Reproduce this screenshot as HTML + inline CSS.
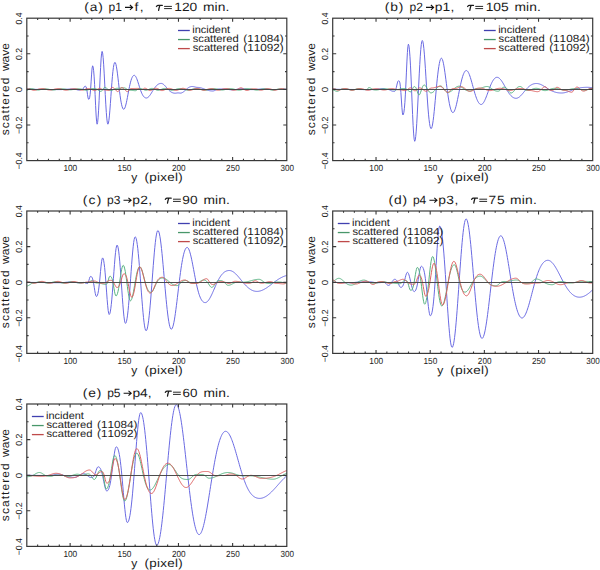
<!DOCTYPE html>
<html><head><meta charset="utf-8"><style>
html,body{margin:0;padding:0;background:#fff;}
svg{display:block;}
text{font-family:"Liberation Sans", sans-serif;fill:#1a1a1a;font-kerning:none;text-rendering:geometricPrecision;}
</style></head><body>
<svg width="600" height="570" viewBox="0 0 600 570">
<rect width="600" height="570" fill="#fff"/>
<clipPath id="clipa"><rect x="26.80" y="17.20" width="260.00" height="144.40"/></clipPath>
<g clip-path="url(#clipa)" fill="none" stroke-width="1" stroke-linejoin="round">
<path d="M26.80 89.30 L27.30 89.30 L27.81 89.30 L28.31 89.30 L28.81 89.30 L29.32 89.30 L29.82 89.31 L30.32 89.31 L30.82 89.31 L31.33 89.31 L31.83 89.32 L32.33 89.32 L32.84 89.32 L33.34 89.33 L33.84 89.33 L34.35 89.34 L34.85 89.34 L35.35 89.35 L35.85 89.35 L36.36 89.36 L36.86 89.36 L37.36 89.37 L37.87 89.37 L38.37 89.38 L38.87 89.39 L39.38 89.39 L39.88 89.40 L40.38 89.41 L40.88 89.41 L41.39 89.42 L41.89 89.43 L42.39 89.44 L42.90 89.44 L43.40 89.45 L43.90 89.46 L44.41 89.46 L44.91 89.47 L45.41 89.48 L45.92 89.49 L46.42 89.49 L46.92 89.50 L47.42 89.51 L47.93 89.51 L48.43 89.52 L48.93 89.52 L49.44 89.53 L49.94 89.54 L50.44 89.54 L50.95 89.55 L51.45 89.55 L51.95 89.56 L52.45 89.56 L52.96 89.57 L53.46 89.57 L53.96 89.58 L54.47 89.58 L54.97 89.58 L55.47 89.59 L55.98 89.59 L56.48 89.59 L56.98 89.59 L57.48 89.60 L57.99 89.60 L58.49 89.60 L58.99 89.60 L59.50 89.60 L60.00 89.60 L60.50 89.60 L61.00 89.59 L61.50 89.58 L62.00 89.56 L62.50 89.54 L63.00 89.51 L63.50 89.48 L64.00 89.45 L64.50 89.41 L65.00 89.38 L65.50 89.34 L66.00 89.30 L66.50 89.26 L67.00 89.22 L67.50 89.19 L68.00 89.15 L68.50 89.12 L69.00 89.09 L69.50 89.06 L70.00 89.04 L70.50 89.02 L71.00 89.01 L71.50 89.00 L72.00 89.00 L72.50 89.00 L73.00 89.01 L73.50 89.02 L74.00 89.05 L74.50 89.11 L75.00 89.19 L75.50 89.30 L76.00 89.43 L76.50 89.59 L77.00 89.74 L77.50 89.88 L78.00 90.00 L78.50 90.07 L79.00 90.10 L79.50 90.06 L80.00 89.95 L80.50 89.79 L81.00 89.61 L81.50 89.45 L82.00 89.34 L82.50 89.30 L83.10 88.86 L83.70 87.80 L84.30 86.74 L84.90 86.30 L85.43 86.28 L85.96 86.61 L86.49 88.03 L87.01 90.92 L87.54 94.71 L88.07 98.00 L88.60 99.30 L89.10 99.01 L89.60 97.77 L90.10 94.72 L90.60 89.30 L91.10 81.90 L91.60 74.08 L92.10 68.06 L92.60 65.80 L93.10 66.89 L93.60 70.28 L94.10 76.12 L94.60 84.40 L95.10 94.54 L95.60 105.32 L96.10 115.01 L96.60 121.77 L97.10 124.20 L97.60 122.56 L98.10 117.77 L98.60 110.18 L99.10 100.40 L99.60 89.30 L100.10 77.91 L100.60 67.39 L101.10 58.87 L101.60 53.32 L102.10 51.40 L102.63 52.99 L103.15 57.62 L103.68 64.82 L104.21 73.92 L104.74 84.09 L105.26 94.45 L105.79 104.16 L106.32 112.49 L106.85 118.86 L107.37 122.84 L107.90 124.20 L108.40 123.23 L108.90 120.39 L109.40 115.91 L109.90 110.13 L110.40 103.47 L110.90 96.38 L111.40 89.30 L111.90 82.61 L112.40 76.61 L112.90 71.54 L113.40 67.52 L113.90 64.62 L114.40 62.88 L114.90 62.30 L115.42 62.82 L115.94 64.34 L116.45 66.79 L116.97 70.02 L117.49 73.87 L118.01 78.13 L118.52 82.61 L119.04 87.10 L119.56 91.44 L120.08 95.47 L120.59 99.08 L121.11 102.19 L121.63 104.76 L122.15 106.75 L122.66 108.17 L123.18 109.02 L123.70 109.30 L124.23 109.02 L124.75 108.18 L125.28 106.83 L125.80 105.02 L126.33 102.82 L126.85 100.33 L127.38 97.64 L127.90 94.84 L128.42 92.03 L128.95 89.30 L129.47 86.71 L130.00 84.33 L130.53 82.20 L131.05 80.34 L131.57 78.78 L132.10 77.51 L132.62 76.53 L133.15 75.85 L133.67 75.44 L134.20 75.30 L134.70 75.44 L135.21 75.86 L135.71 76.55 L136.22 77.48 L136.72 78.63 L137.22 79.95 L137.73 81.41 L138.23 82.96 L138.74 84.57 L139.24 86.18 L139.75 87.77 L140.25 89.30 L140.75 90.74 L141.26 92.06 L141.76 93.26 L142.27 94.31 L142.77 95.23 L143.28 96.00 L143.78 96.64 L144.28 97.14 L144.79 97.52 L145.29 97.79 L145.80 97.95 L146.30 98.00 L146.81 97.94 L147.32 97.76 L147.83 97.48 L148.34 97.08 L148.85 96.58 L149.36 96.00 L149.87 95.34 L150.38 94.61 L150.89 93.84 L151.40 93.03 L151.91 92.19 L152.42 91.35 L152.93 90.52 L153.44 89.70 L153.96 88.91 L154.47 88.16 L154.98 87.45 L155.49 86.79 L156.00 86.19 L156.51 85.64 L157.02 85.16 L157.53 84.74 L158.04 84.38 L158.55 84.07 L159.06 83.83 L159.57 83.64 L160.08 83.51 L160.59 83.43 L161.10 83.40 L161.61 83.45 L162.13 83.59 L162.64 83.81 L163.16 84.12 L163.67 84.51 L164.19 84.96 L164.70 85.47 L165.22 86.02 L165.73 86.60 L166.25 87.20 L166.76 87.81 L167.28 88.42 L167.79 89.01 L168.31 89.58 L168.82 90.12 L169.34 90.62 L169.85 91.08 L170.37 91.50 L170.88 91.87 L171.40 92.19 L171.91 92.47 L172.43 92.70 L172.94 92.88 L173.46 93.02 L173.97 93.12 L174.49 93.18 L175.00 93.20 L175.50 93.18 L176.00 93.13 L176.50 93.05 L177.00 92.98 L177.50 92.92 L178.00 92.90 L178.50 92.92 L179.00 92.97 L179.50 93.03 L180.00 93.08 L180.50 93.10 L181.01 93.06 L181.52 92.94 L182.03 92.75 L182.53 92.48 L183.04 92.16 L183.55 91.79 L184.06 91.37 L184.57 90.92 L185.08 90.46 L185.59 89.99 L186.10 89.53 L186.60 89.08 L187.11 88.65 L187.62 88.25 L188.13 87.89 L188.64 87.56 L189.15 87.28 L189.66 87.04 L190.17 86.85 L190.67 86.69 L191.18 86.59 L191.69 86.52 L192.20 86.50 L192.73 86.52 L193.26 86.59 L193.79 86.69 L194.32 86.81 L194.85 86.95 L195.38 87.09 L195.91 87.21 L196.44 87.31 L196.97 87.38 L197.50 87.40 L198.01 87.41 L198.51 87.44 L199.02 87.50 L199.53 87.57 L200.03 87.67 L200.54 87.78 L201.05 87.91 L201.55 88.05 L202.06 88.21 L202.57 88.38 L203.07 88.55 L203.58 88.73 L204.09 88.92 L204.59 89.11 L205.10 89.30 L205.61 89.49 L206.11 89.67 L206.62 89.85 L207.13 90.02 L207.63 90.17 L208.14 90.32 L208.65 90.46 L209.15 90.58 L209.66 90.69 L210.17 90.78 L210.67 90.86 L211.18 90.92 L211.69 90.96 L212.19 90.99 L212.70 91.00 L213.22 90.96 L213.73 90.86 L214.25 90.69 L214.77 90.48 L215.28 90.23 L215.80 89.97 L216.32 89.72 L216.83 89.49 L217.35 89.30 L217.87 89.15 L218.38 89.04 L218.90 88.97 L219.42 88.95 L219.93 88.94 L220.45 88.96 L220.97 88.98 L221.48 88.99 L222.00 89.00 L222.50 89.00 L223.00 89.01 L223.50 89.02 L224.00 89.04 L224.50 89.07 L225.00 89.10 L225.50 89.14 L226.00 89.19 L226.50 89.24 L227.00 89.30 L227.50 89.37 L228.00 89.43 L228.50 89.50 L229.00 89.57 L229.50 89.63 L230.00 89.69 L230.50 89.74 L231.00 89.77 L231.50 89.79 L232.00 89.80 L232.50 89.80 L233.00 89.78 L233.50 89.76 L234.00 89.72 L234.50 89.67 L235.00 89.62 L235.50 89.55 L236.00 89.48 L236.50 89.39 L237.00 89.30 L237.50 89.20 L238.00 89.11 L238.50 89.01 L239.00 88.91 L239.50 88.83 L240.00 88.75 L240.50 88.69 L241.00 88.64 L241.50 88.61 L242.00 88.60 L242.50 88.61 L243.00 88.64 L243.50 88.70 L244.00 88.76 L244.50 88.85 L245.00 88.94 L245.50 89.03 L246.00 89.13 L246.50 89.22 L247.00 89.30 L247.50 89.37 L248.00 89.44 L248.50 89.49 L249.00 89.52 L249.50 89.55 L250.00 89.57 L250.50 89.59 L251.00 89.59 L251.50 89.60 L252.00 89.60 L252.50 89.60 L253.00 89.59 L253.50 89.57 L254.00 89.54 L254.50 89.51 L255.00 89.48 L255.50 89.44 L256.00 89.39 L256.50 89.35 L257.00 89.30 L257.50 89.25 L258.00 89.21 L258.50 89.16 L259.00 89.12 L259.50 89.09 L260.00 89.06 L260.50 89.03 L261.00 89.01 L261.50 89.00 L262.00 89.00 L262.50 89.00 L263.00 89.01 L263.50 89.02 L264.00 89.04 L264.50 89.06 L265.00 89.09 L265.50 89.12 L266.00 89.15 L266.50 89.19 L267.00 89.22 L267.50 89.26 L268.00 89.30 L268.50 89.34 L269.00 89.38 L269.50 89.41 L270.00 89.45 L270.50 89.48 L271.00 89.51 L271.50 89.54 L272.00 89.56 L272.50 89.58 L273.00 89.59 L273.50 89.60 L274.00 89.60 L274.50 89.60 L275.00 89.59 L275.50 89.57 L276.00 89.56 L276.50 89.53 L277.00 89.51 L277.50 89.48 L278.00 89.45 L278.50 89.41 L279.00 89.38 L279.50 89.35 L280.00 89.33 L280.50 89.30 L281.00 89.28 L281.50 89.26 L282.00 89.24 L282.50 89.23 L283.00 89.22 L283.50 89.21 L284.00 89.21 L284.50 89.20 L285.00 89.20 L285.50 89.20 L286.00 89.20 L286.50 89.20 L287.00 89.20" stroke="#6a6ae2"/>
<path d="M26.80 90.30 L27.32 90.21 L27.85 89.98 L28.38 89.65 L28.90 89.30 L29.43 89.00 L29.95 88.77 L30.48 88.64 L31.00 88.60 L31.50 88.62 L32.00 88.67 L32.50 88.75 L33.00 88.86 L33.50 89.00 L34.00 89.14 L34.50 89.30 L35.00 89.46 L35.50 89.60 L36.00 89.74 L36.50 89.85 L37.00 89.93 L37.50 89.98 L38.00 90.00 L38.50 89.98 L39.00 89.92 L39.50 89.83 L40.00 89.71 L40.50 89.58 L41.00 89.44 L41.50 89.30 L42.00 89.17 L42.50 89.06 L43.00 88.96 L43.50 88.89 L44.00 88.84 L44.50 88.81 L45.00 88.80 L45.50 88.81 L46.00 88.83 L46.50 88.87 L47.00 88.93 L47.50 89.00 L48.00 89.09 L48.50 89.19 L49.00 89.30 L49.50 89.42 L50.00 89.54 L50.50 89.66 L51.00 89.77 L51.50 89.87 L52.00 89.94 L52.50 89.98 L53.00 90.00 L53.50 89.99 L54.00 89.95 L54.50 89.89 L55.00 89.82 L55.50 89.73 L56.00 89.62 L56.50 89.52 L57.00 89.41 L57.50 89.30 L58.00 89.20 L58.50 89.11 L59.00 89.02 L59.50 88.96 L60.00 88.90 L60.50 88.86 L61.00 88.82 L61.50 88.81 L62.00 88.80 L62.50 88.81 L63.00 88.84 L63.50 88.88 L64.00 88.95 L64.50 89.02 L65.00 89.11 L65.50 89.20 L66.00 89.30 L66.50 89.40 L67.00 89.49 L67.50 89.58 L68.00 89.65 L68.50 89.72 L69.00 89.76 L69.50 89.79 L70.00 89.80 L70.50 89.79 L71.00 89.76 L71.50 89.72 L72.00 89.65 L72.50 89.58 L73.00 89.49 L73.50 89.40 L74.00 89.30 L74.50 89.20 L75.00 89.11 L75.50 89.02 L76.00 88.95 L76.50 88.88 L77.00 88.84 L77.50 88.81 L78.00 88.80 L78.50 88.81 L79.00 88.82 L79.50 88.86 L80.00 88.91 L80.50 88.97 L81.00 89.06 L81.50 89.17 L82.00 89.30 L82.50 89.44 L83.00 89.60 L83.50 89.75 L84.00 89.89 L84.50 90.02 L85.00 90.12 L85.50 90.18 L86.00 90.20 L86.50 90.18 L87.00 90.11 L87.50 90.00 L88.00 89.85 L88.50 89.68 L89.00 89.49 L89.50 89.30 L90.00 89.11 L90.50 88.94 L91.00 88.79 L91.50 88.67 L92.00 88.57 L92.50 88.52 L93.00 88.50 L93.50 88.50 L94.00 88.52 L94.50 88.54 L95.00 88.60 L95.50 88.70 L96.00 88.84 L96.50 89.04 L97.00 89.30 L97.50 89.61 L98.00 89.95 L98.50 90.31 L99.00 90.65 L99.50 90.96 L100.00 91.19 L100.50 91.35 L101.00 91.40 L101.53 91.18 L102.06 90.59 L102.59 89.75 L103.11 88.86 L103.64 88.09 L104.17 87.58 L104.70 87.40 L105.23 87.48 L105.75 87.70 L106.28 88.03 L106.80 88.44 L107.33 88.88 L107.85 89.30 L108.38 89.68 L108.90 89.99 L109.42 90.22 L109.95 90.38 L110.47 90.47 L111.00 90.50 L111.50 90.46 L112.00 90.33 L112.50 90.13 L113.00 89.88 L113.50 89.59 L114.00 89.30 L114.50 89.02 L115.00 88.77 L115.50 88.57 L116.00 88.42 L116.50 88.33 L117.00 88.30 L117.51 88.29 L118.03 88.28 L118.54 88.26 L119.06 88.22 L119.57 88.19 L120.09 88.14 L120.60 88.10 L121.11 88.06 L121.63 88.01 L122.14 87.98 L122.66 87.94 L123.17 87.92 L123.69 87.91 L124.20 87.90 L124.73 87.97 L125.25 88.16 L125.78 88.44 L126.31 88.78 L126.84 89.13 L127.36 89.46 L127.89 89.73 L128.42 89.95 L128.95 90.09 L129.47 90.17 L130.00 90.20 L130.53 90.21 L131.06 90.25 L131.59 90.30 L132.12 90.37 L132.65 90.45 L133.18 90.53 L133.71 90.60 L134.24 90.65 L134.77 90.69 L135.30 90.70 L135.82 90.60 L136.34 90.32 L136.87 89.92 L137.39 89.50 L137.91 89.12 L138.43 88.83 L138.96 88.63 L139.48 88.53 L140.00 88.50 L140.50 88.53 L141.00 88.60 L141.50 88.72 L142.00 88.89 L142.50 89.08 L143.00 89.30 L143.50 89.52 L144.00 89.74 L144.50 89.93 L145.00 90.07 L145.50 90.17 L146.00 90.20 L146.50 90.17 L147.00 90.08 L147.50 89.94 L148.00 89.75 L148.50 89.53 L149.00 89.30 L149.50 89.07 L150.00 88.85 L150.50 88.66 L151.00 88.52 L151.50 88.43 L152.00 88.40 L152.50 88.43 L153.00 88.51 L153.50 88.65 L154.00 88.84 L154.50 89.06 L155.00 89.30 L155.50 89.55 L156.00 89.79 L156.50 90.00 L157.00 90.16 L157.50 90.26 L158.00 90.30 L158.50 90.27 L159.00 90.20 L159.50 90.07 L160.00 89.91 L160.50 89.72 L161.00 89.51 L161.50 89.30 L162.00 89.09 L162.50 88.90 L163.00 88.73 L163.50 88.59 L164.00 88.48 L164.50 88.42 L165.00 88.40 L165.50 88.42 L166.00 88.48 L166.50 88.59 L167.00 88.73 L167.50 88.90 L168.00 89.09 L168.50 89.30 L169.00 89.51 L169.50 89.72 L170.00 89.91 L170.50 90.07 L171.00 90.20 L171.50 90.27 L172.00 90.30 L172.50 90.28 L173.00 90.22 L173.50 90.12 L174.00 89.99 L174.50 89.83 L175.00 89.66 L175.50 89.48 L176.00 89.30 L176.50 89.13 L177.00 88.97 L177.50 88.83 L178.00 88.71 L178.50 88.62 L179.00 88.55 L179.50 88.51 L180.00 88.50 L180.50 88.51 L181.00 88.56 L181.50 88.63 L182.00 88.72 L182.50 88.84 L183.00 88.98 L183.50 89.14 L184.00 89.30 L184.50 89.47 L185.00 89.63 L185.50 89.79 L186.00 89.93 L186.50 90.04 L187.00 90.13 L187.50 90.18 L188.00 90.20 L188.50 90.18 L189.00 90.12 L189.50 90.03 L190.00 89.92 L190.50 89.78 L191.00 89.62 L191.50 89.46 L192.00 89.30 L192.50 89.15 L193.00 89.01 L193.50 88.89 L194.00 88.78 L194.50 88.70 L195.00 88.65 L195.50 88.61 L196.00 88.60 L196.50 88.61 L197.00 88.64 L197.50 88.68 L198.00 88.75 L198.50 88.83 L199.00 88.92 L199.50 89.04 L200.00 89.16 L200.50 89.30 L201.00 89.44 L201.50 89.59 L202.00 89.72 L202.50 89.86 L203.00 89.97 L203.50 90.07 L204.00 90.14 L204.50 90.18 L205.00 90.20 L205.50 90.18 L206.00 90.14 L206.50 90.07 L207.00 89.97 L207.50 89.86 L208.00 89.72 L208.50 89.59 L209.00 89.44 L209.50 89.30 L210.00 89.16 L210.50 89.04 L211.00 88.92 L211.50 88.83 L212.00 88.75 L212.50 88.68 L213.00 88.64 L213.50 88.61 L214.00 88.60 L214.50 88.61 L215.00 88.65 L215.50 88.72 L216.00 88.81 L216.50 88.91 L217.00 89.03 L217.50 89.16 L218.00 89.30 L218.50 89.44 L219.00 89.57 L219.50 89.69 L220.00 89.79 L220.50 89.88 L221.00 89.95 L221.50 89.99 L222.00 90.00 L222.50 89.99 L223.00 89.95 L223.50 89.88 L224.00 89.79 L224.50 89.69 L225.00 89.57 L225.50 89.44 L226.00 89.30 L226.50 89.16 L227.00 89.03 L227.50 88.91 L228.00 88.81 L228.50 88.72 L229.00 88.65 L229.50 88.61 L230.00 88.60 L230.50 88.61 L231.00 88.64 L231.50 88.69 L232.00 88.75 L232.50 88.84 L233.00 88.94 L233.50 89.05 L234.00 89.17 L234.50 89.30 L235.00 89.43 L235.50 89.56 L236.00 89.69 L236.50 89.80 L237.00 89.90 L237.50 89.99 L238.00 90.05 L238.50 90.09 L239.00 90.10 L239.50 90.09 L240.00 90.05 L240.50 89.99 L241.00 89.90 L241.50 89.80 L242.00 89.69 L242.50 89.56 L243.00 89.43 L243.50 89.30 L244.00 89.17 L244.50 89.05 L245.00 88.94 L245.50 88.84 L246.00 88.75 L246.50 88.69 L247.00 88.64 L247.50 88.61 L248.00 88.60 L248.50 88.61 L249.00 88.64 L249.50 88.69 L250.00 88.75 L250.50 88.84 L251.00 88.94 L251.50 89.05 L252.00 89.17 L252.50 89.30 L253.00 89.43 L253.50 89.56 L254.00 89.69 L254.50 89.80 L255.00 89.90 L255.50 89.99 L256.00 90.05 L256.50 90.09 L257.00 90.10 L257.50 90.08 L258.00 90.03 L258.50 89.95 L259.00 89.84 L259.50 89.72 L260.00 89.58 L260.50 89.44 L261.00 89.30 L261.50 89.17 L262.00 89.05 L262.50 88.94 L263.00 88.86 L263.50 88.79 L264.00 88.74 L264.50 88.71 L265.00 88.70 L265.50 88.71 L266.00 88.74 L266.50 88.78 L267.00 88.84 L267.50 88.93 L268.00 89.03 L268.50 89.16 L269.00 89.30 L269.50 89.45 L270.00 89.61 L270.50 89.76 L271.00 89.91 L271.50 90.03 L272.00 90.12 L272.50 90.18 L273.00 90.20 L273.50 90.18 L274.00 90.12 L274.50 90.02 L275.00 89.89 L275.50 89.75 L276.00 89.60 L276.50 89.44 L277.00 89.30 L277.50 89.17 L278.00 89.06 L278.50 88.97 L279.00 88.91 L279.50 88.86 L280.00 88.82 L280.50 88.81 L281.00 88.80 L281.50 88.82 L282.00 88.88 L282.50 88.98 L283.00 89.09 L283.50 89.20 L284.00 89.30 L284.50 89.38 L285.00 89.44 L285.50 89.47 L286.00 89.49 L286.50 89.50 L287.00 89.50" stroke="#58b280"/>
<path d="M26.80 89.00 L27.31 89.00 L27.83 89.00 L28.34 89.01 L28.86 89.03 L29.37 89.08 L29.89 89.17 L30.40 89.30 L30.91 89.46 L31.43 89.65 L31.94 89.84 L32.46 90.02 L32.97 90.17 L33.49 90.27 L34.00 90.30 L34.50 90.28 L35.00 90.21 L35.50 90.11 L36.00 89.98 L36.50 89.82 L37.00 89.65 L37.50 89.47 L38.00 89.30 L38.50 89.14 L39.00 89.00 L39.50 88.87 L40.00 88.77 L40.50 88.70 L41.00 88.64 L41.50 88.61 L42.00 88.60 L42.50 88.61 L43.00 88.65 L43.50 88.72 L44.00 88.81 L44.50 88.91 L45.00 89.03 L45.50 89.16 L46.00 89.30 L46.50 89.44 L47.00 89.57 L47.50 89.69 L48.00 89.79 L48.50 89.88 L49.00 89.95 L49.50 89.99 L50.00 90.00 L50.50 89.99 L51.00 89.95 L51.50 89.88 L52.00 89.79 L52.50 89.69 L53.00 89.57 L53.50 89.44 L54.00 89.30 L54.50 89.16 L55.00 89.03 L55.50 88.91 L56.00 88.81 L56.50 88.72 L57.00 88.65 L57.50 88.61 L58.00 88.60 L58.50 88.61 L59.00 88.65 L59.50 88.70 L60.00 88.78 L60.50 88.89 L61.00 89.01 L61.50 89.15 L62.00 89.30 L62.50 89.46 L63.00 89.62 L63.50 89.78 L64.00 89.92 L64.50 90.03 L65.00 90.12 L65.50 90.18 L66.00 90.20 L66.50 90.18 L67.00 90.12 L67.50 90.02 L68.00 89.89 L68.50 89.75 L69.00 89.60 L69.50 89.44 L70.00 89.30 L70.50 89.17 L71.00 89.06 L71.50 88.97 L72.00 88.91 L72.50 88.86 L73.00 88.82 L73.50 88.81 L74.00 88.80 L74.50 88.81 L75.00 88.83 L75.50 88.86 L76.00 88.92 L76.50 88.99 L77.00 89.07 L77.50 89.18 L78.00 89.30 L78.50 89.43 L79.00 89.57 L79.50 89.71 L80.00 89.83 L80.50 89.94 L81.00 90.03 L81.50 90.08 L82.00 90.10 L82.50 90.07 L83.00 89.99 L83.50 89.86 L84.00 89.69 L84.50 89.50 L85.00 89.30 L85.50 89.11 L86.00 88.94 L86.50 88.79 L87.00 88.69 L87.50 88.62 L88.00 88.60 L88.52 88.61 L89.03 88.65 L89.55 88.72 L90.06 88.83 L90.58 88.98 L91.09 89.18 L91.61 89.42 L92.12 89.69 L92.64 89.96 L93.15 90.22 L93.67 90.42 L94.18 90.55 L94.70 90.60 L95.23 90.53 L95.76 90.33 L96.29 90.03 L96.82 89.67 L97.35 89.30 L97.88 88.96 L98.41 88.68 L98.94 88.47 L99.47 88.34 L100.00 88.30 L100.50 88.39 L101.00 88.64 L101.50 88.98 L102.00 89.30 L102.50 89.55 L103.00 89.71 L103.50 89.78 L104.00 89.80 L104.55 89.83 L105.10 89.90 L105.65 90.02 L106.20 90.15 L106.75 90.28 L107.30 90.40 L107.85 90.47 L108.40 90.50 L108.93 90.41 L109.46 90.13 L109.99 89.63 L110.51 88.94 L111.04 88.20 L111.57 87.62 L112.10 87.40 L112.63 87.47 L113.15 87.67 L113.68 88.01 L114.21 88.46 L114.74 89.01 L115.26 89.60 L115.79 90.21 L116.32 90.76 L116.85 91.21 L117.37 91.50 L117.90 91.60 L118.43 91.35 L118.96 90.66 L119.49 89.76 L120.01 88.87 L120.54 88.17 L121.07 87.74 L121.60 87.60 L122.13 87.66 L122.65 87.83 L123.18 88.12 L123.71 88.52 L124.24 89.02 L124.76 89.59 L125.29 90.18 L125.82 90.74 L126.35 91.19 L126.87 91.50 L127.40 91.60 L127.91 91.42 L128.42 90.93 L128.93 90.26 L129.44 89.59 L129.96 89.05 L130.47 88.71 L130.98 88.55 L131.49 88.51 L132.00 88.50 L132.53 88.50 L133.07 88.49 L133.60 88.49 L134.13 88.48 L134.67 88.46 L135.20 88.45 L135.73 88.44 L136.27 88.43 L136.80 88.41 L137.33 88.41 L137.87 88.40 L138.40 88.40 L138.92 88.63 L139.44 89.10 L139.96 89.44 L140.48 89.52 L141.00 89.50 L141.53 89.52 L142.06 89.53 L142.59 89.42 L143.11 89.13 L143.64 88.72 L144.17 88.35 L144.70 88.20 L145.23 88.25 L145.76 88.39 L146.29 88.63 L146.82 88.94 L147.35 89.30 L147.88 89.68 L148.41 90.04 L148.94 90.34 L149.47 90.53 L150.00 90.60 L150.50 90.55 L151.00 90.41 L151.50 90.19 L152.00 89.91 L152.50 89.61 L153.00 89.30 L153.50 89.01 L154.00 88.76 L154.50 88.56 L155.00 88.42 L155.50 88.33 L156.00 88.30 L156.50 88.33 L157.00 88.42 L157.50 88.56 L158.00 88.76 L158.50 89.01 L159.00 89.30 L159.50 89.61 L160.00 89.91 L160.50 90.19 L161.00 90.41 L161.50 90.55 L162.00 90.60 L162.50 90.56 L163.00 90.45 L163.50 90.28 L164.00 90.06 L164.50 89.81 L165.00 89.55 L165.50 89.30 L166.00 89.07 L166.50 88.86 L167.00 88.69 L167.50 88.56 L168.00 88.47 L168.50 88.42 L169.00 88.40 L169.50 88.42 L170.00 88.48 L170.50 88.58 L171.00 88.72 L171.50 88.88 L172.00 89.08 L172.50 89.30 L173.00 89.53 L173.50 89.75 L174.00 89.96 L174.50 90.14 L175.00 90.28 L175.50 90.37 L176.00 90.40 L176.50 90.37 L177.00 90.29 L177.50 90.15 L178.00 89.97 L178.50 89.76 L179.00 89.54 L179.50 89.30 L180.00 89.07 L180.50 88.85 L181.00 88.66 L181.50 88.51 L182.00 88.39 L182.50 88.32 L183.00 88.30 L183.50 88.33 L184.00 88.40 L184.50 88.52 L185.00 88.68 L185.50 88.87 L186.00 89.08 L186.50 89.30 L187.00 89.52 L187.50 89.73 L188.00 89.92 L188.50 90.08 L189.00 90.20 L189.50 90.27 L190.00 90.30 L190.50 90.27 L191.00 90.20 L191.50 90.07 L192.00 89.91 L192.50 89.72 L193.00 89.51 L193.50 89.30 L194.00 89.09 L194.50 88.90 L195.00 88.73 L195.50 88.59 L196.00 88.48 L196.50 88.42 L197.00 88.40 L197.50 88.42 L198.00 88.48 L198.50 88.59 L199.00 88.73 L199.50 88.90 L200.00 89.09 L200.50 89.30 L201.00 89.51 L201.50 89.72 L202.00 89.91 L202.50 90.07 L203.00 90.20 L203.50 90.27 L204.00 90.30 L204.50 90.27 L205.00 90.19 L205.50 90.06 L206.00 89.89 L206.50 89.70 L207.00 89.50 L207.50 89.30 L208.00 89.12 L208.50 88.96 L209.00 88.83 L209.50 88.73 L210.00 88.66 L210.50 88.61 L211.00 88.60 L211.50 88.62 L212.00 88.66 L212.50 88.74 L213.00 88.84 L213.50 88.97 L214.00 89.13 L214.50 89.30 L215.00 89.48 L215.50 89.67 L216.00 89.84 L216.50 89.99 L217.00 90.10 L217.50 90.17 L218.00 90.20 L218.50 90.18 L219.00 90.12 L219.50 90.03 L220.00 89.92 L220.50 89.78 L221.00 89.62 L221.50 89.46 L222.00 89.30 L222.50 89.15 L223.00 89.01 L223.50 88.89 L224.00 88.78 L224.50 88.70 L225.00 88.65 L225.50 88.61 L226.00 88.60 L226.50 88.61 L227.00 88.65 L227.50 88.70 L228.00 88.78 L228.50 88.89 L229.00 89.01 L229.50 89.15 L230.00 89.30 L230.50 89.46 L231.00 89.62 L231.50 89.78 L232.00 89.92 L232.50 90.03 L233.00 90.12 L233.50 90.18 L234.00 90.20 L234.50 90.18 L235.00 90.14 L235.50 90.05 L236.00 89.93 L236.50 89.76 L237.00 89.55 L237.50 89.30 L238.00 89.02 L238.50 88.72 L239.00 88.44 L239.50 88.18 L240.00 87.98 L240.50 87.84 L241.00 87.80 L241.50 87.86 L242.00 88.02 L242.50 88.27 L243.00 88.59 L243.50 88.94 L244.00 89.30 L244.50 89.64 L245.00 89.94 L245.50 90.18 L246.00 90.36 L246.50 90.46 L247.00 90.50 L247.50 90.46 L248.00 90.35 L248.50 90.18 L249.00 89.97 L249.50 89.73 L250.00 89.51 L250.50 89.30 L251.00 89.13 L251.50 89.00 L252.00 88.91 L252.50 88.85 L253.00 88.82 L253.50 88.80 L254.00 88.80 L254.50 88.81 L255.00 88.83 L255.50 88.87 L256.00 88.94 L256.50 89.03 L257.00 89.15 L257.50 89.30 L258.00 89.47 L258.50 89.64 L259.00 89.81 L259.50 89.97 L260.00 90.09 L260.50 90.17 L261.00 90.20 L261.50 90.17 L262.00 90.10 L262.50 89.98 L263.00 89.83 L263.50 89.65 L264.00 89.47 L264.50 89.30 L265.00 89.14 L265.50 89.00 L266.00 88.89 L266.50 88.81 L267.00 88.75 L267.50 88.71 L268.00 88.70 L268.50 88.71 L269.00 88.75 L269.50 88.81 L270.00 88.89 L270.50 89.00 L271.00 89.14 L271.50 89.30 L272.00 89.47 L272.50 89.65 L273.00 89.83 L273.50 89.98 L274.00 90.10 L274.50 90.17 L275.00 90.20 L275.50 90.17 L276.00 90.10 L276.50 89.99 L277.00 89.84 L277.50 89.67 L278.00 89.48 L278.50 89.30 L279.00 89.13 L279.50 88.97 L280.00 88.84 L280.50 88.74 L281.00 88.66 L281.50 88.62 L282.00 88.60 L282.50 88.65 L283.00 88.77 L283.50 88.95 L284.00 89.14 L284.50 89.30 L285.00 89.42 L285.50 89.48 L286.00 89.50 L286.50 89.50 L287.00 89.50" stroke="#dc6262"/>
</g>
<line x1="26.80" y1="89.50" x2="286.80" y2="89.50" stroke="#444" stroke-width="0.95"/>
<rect x="26.80" y="18.20" width="260.00" height="142.40" fill="none" stroke="#383838" stroke-width="1.2"/>
<path d="M37.63 160.60V158.80M37.63 18.20V20.00M48.47 160.60V158.80M48.47 18.20V20.00M59.30 160.60V158.80M59.30 18.20V20.00M70.13 160.60V157.10M70.13 18.20V21.70M80.97 160.60V158.80M80.97 18.20V20.00M91.80 160.60V158.80M91.80 18.20V20.00M102.63 160.60V158.80M102.63 18.20V20.00M113.47 160.60V158.80M113.47 18.20V20.00M124.30 160.60V157.10M124.30 18.20V21.70M135.13 160.60V158.80M135.13 18.20V20.00M145.97 160.60V158.80M145.97 18.20V20.00M156.80 160.60V158.80M156.80 18.20V20.00M167.63 160.60V158.80M167.63 18.20V20.00M178.47 160.60V157.10M178.47 18.20V21.70M189.30 160.60V158.80M189.30 18.20V20.00M200.13 160.60V158.80M200.13 18.20V20.00M210.97 160.60V158.80M210.97 18.20V20.00M221.80 160.60V158.80M221.80 18.20V20.00M232.63 160.60V157.10M232.63 18.20V21.70M243.47 160.60V158.80M243.47 18.20V20.00M254.30 160.60V158.80M254.30 18.20V20.00M265.13 160.60V158.80M265.13 18.20V20.00M275.97 160.60V158.80M275.97 18.20V20.00M26.80 142.80H28.60M286.80 142.80H285.00M26.80 125.00H30.30M286.80 125.00H283.30M26.80 107.20H28.60M286.80 107.20H285.00M26.80 89.40H30.30M286.80 89.40H283.30M26.80 71.60H28.60M286.80 71.60H285.00M26.80 53.80H30.30M286.80 53.80H283.30M26.80 36.00H28.60M286.80 36.00H285.00" stroke="#383838" stroke-width="1.1" fill="none"/>
<text transform="translate(63.40 170.90) scale(0.9332 1)" font-size="8.90">100</text>
<text transform="translate(117.57 170.90) scale(0.9332 1)" font-size="8.90">150</text>
<text transform="translate(171.96 170.90) scale(0.9179 1)" font-size="8.90">200</text>
<text transform="translate(226.12 170.90) scale(0.9179 1)" font-size="8.90">250</text>
<text transform="translate(280.39 170.90) scale(0.9108 1)" font-size="8.90">300</text>
<g transform="translate(21.80 160.80) rotate(-90)"><text transform="translate(-8.73 0.00) scale(0.9840 1)" font-size="8.90">−0.4</text></g>
<g transform="translate(21.80 125.20) rotate(-90)"><text transform="translate(-8.74 0.00) scale(0.9950 1)" font-size="8.90">−0.2</text></g>
<g transform="translate(21.80 89.60) rotate(-90)"><text transform="translate(-2.73 0.00) scale(1.1047 1)" font-size="8.90">0</text></g>
<g transform="translate(21.80 54.00) rotate(-90)"><text transform="translate(-6.04 0.00) scale(0.9847 1)" font-size="8.90">0.2</text></g>
<g transform="translate(21.80 18.40) rotate(-90)"><text transform="translate(-6.04 0.00) scale(0.9691 1)" font-size="8.90">0.4</text></g>
<text transform="translate(131.27 181.10) scale(1.0437 1)" font-size="11.60">y</text>
<text transform="translate(144.47 181.10) scale(1.1500 1)" font-size="11.60" letter-spacing="0.295">(pixel)</text>
<g transform="translate(8.80 89.40) rotate(-90)"><text transform="translate(-45.93 0.00) scale(1.0500 1)" font-size="11.40" letter-spacing="1.008">scattered</text><text transform="translate(18.32 0.00) scale(1.0489 1)" font-size="11.40">wave</text></g>
<text transform="translate(84.14 10.90) scale(1.1500 1)" font-size="12.00" letter-spacing="0.802">(a)</text>
<text transform="translate(108.53 10.90) scale(1.0000 1)" font-size="12.00">p1</text>
<path d="M125.00 7.40H132.60 M129.90 5.00L132.60 7.40L129.90 9.80" stroke="#111" stroke-width="1.1" fill="none" stroke-linejoin="miter"/>
<text transform="translate(134.50 10.90) scale(1.1500 1)" font-size="12.00" letter-spacing="1.145">f,</text>
<path d="M156.40 6.50Q157.20 5.40 158.30 5.40L162.30 5.40M159.80 5.50Q159.00 8.10 158.60 10.30" stroke="#1a1a1a" stroke-width="1.25" fill="none" stroke-linecap="round"/>
<path d="M164.10 6.40H171.90M164.10 8.60H171.90" stroke="#1a1a1a" stroke-width="0.95" fill="none"/>
<text transform="translate(174.25 10.90) scale(1.1482 1)" font-size="12.00">120</text>
<text transform="translate(203.08 10.90) scale(1.1500 1)" font-size="12.00" letter-spacing="0.031">min.</text>
<line x1="178.00" y1="30.50" x2="189.80" y2="30.50" stroke="#4040b0" stroke-width="1.3"/>
<text transform="translate(192.27 32.70) scale(1.0651 1)" font-size="10.30">incident</text>
<line x1="178.00" y1="39.55" x2="189.80" y2="39.55" stroke="#48976a" stroke-width="1.3"/>
<text transform="translate(192.69 41.75) scale(1.0865 1)" font-size="10.30">scattered</text>
<text transform="translate(243.27 41.75) scale(1.1395 1)" font-size="10.30">(11084)</text>
<line x1="178.00" y1="48.60" x2="189.80" y2="48.60" stroke="#bf4a4a" stroke-width="1.3"/>
<text transform="translate(192.69 50.80) scale(1.0865 1)" font-size="10.30">scattered</text>
<text transform="translate(243.27 50.80) scale(1.1395 1)" font-size="10.30">(11092)</text>
<clipPath id="clipb"><rect x="332.70" y="17.20" width="260.00" height="144.40"/></clipPath>
<g clip-path="url(#clipb)" fill="none" stroke-width="1" stroke-linejoin="round">
<path d="M332.70 89.30 L333.20 89.30 L333.71 89.30 L334.21 89.30 L334.72 89.30 L335.22 89.30 L335.72 89.30 L336.23 89.31 L336.73 89.31 L337.24 89.31 L337.74 89.31 L338.24 89.32 L338.75 89.32 L339.25 89.32 L339.76 89.33 L340.26 89.33 L340.76 89.33 L341.27 89.34 L341.77 89.34 L342.28 89.35 L342.78 89.35 L343.29 89.36 L343.79 89.36 L344.29 89.37 L344.80 89.37 L345.30 89.38 L345.81 89.38 L346.31 89.39 L346.81 89.39 L347.32 89.40 L347.82 89.41 L348.33 89.41 L348.83 89.42 L349.33 89.42 L349.84 89.43 L350.34 89.44 L350.85 89.44 L351.35 89.45 L351.85 89.46 L352.36 89.46 L352.86 89.47 L353.37 89.48 L353.87 89.48 L354.37 89.49 L354.88 89.49 L355.38 89.50 L355.89 89.51 L356.39 89.51 L356.89 89.52 L357.40 89.52 L357.90 89.53 L358.41 89.53 L358.91 89.54 L359.41 89.54 L359.92 89.55 L360.42 89.55 L360.93 89.56 L361.43 89.56 L361.94 89.57 L362.44 89.57 L362.94 89.57 L363.45 89.58 L363.95 89.58 L364.46 89.58 L364.96 89.59 L365.46 89.59 L365.97 89.59 L366.47 89.59 L366.98 89.60 L367.48 89.60 L367.98 89.60 L368.49 89.60 L368.99 89.60 L369.50 89.60 L370.00 89.60 L370.51 89.60 L371.02 89.60 L371.52 89.60 L372.03 89.59 L372.54 89.58 L373.05 89.57 L373.55 89.55 L374.06 89.53 L374.57 89.50 L375.08 89.46 L375.58 89.42 L376.09 89.36 L376.60 89.30 L377.11 89.23 L377.62 89.15 L378.12 89.07 L378.63 88.99 L379.14 88.91 L379.65 88.83 L380.15 88.75 L380.66 88.68 L381.17 88.62 L381.68 88.57 L382.18 88.53 L382.69 88.51 L383.20 88.50 L383.73 88.57 L384.27 88.74 L384.80 88.97 L385.33 89.20 L385.87 89.38 L386.40 89.47 L386.93 89.51 L387.47 89.50 L388.00 89.50 L388.53 89.54 L389.06 89.67 L389.59 89.87 L390.12 90.12 L390.65 90.40 L391.18 90.68 L391.71 90.93 L392.24 91.13 L392.77 91.26 L393.30 91.30 L393.81 91.35 L394.32 91.42 L394.83 91.26 L395.34 90.61 L395.85 89.30 L396.36 87.37 L396.87 85.09 L397.38 82.93 L397.89 81.37 L398.40 80.80 L398.90 80.83 L399.40 81.25 L399.90 82.90 L400.40 86.59 L400.90 92.53 L401.40 100.00 L401.90 107.45 L402.40 112.96 L402.90 115.00 L403.40 114.34 L403.90 112.22 L404.40 108.32 L404.90 102.33 L405.40 94.14 L405.90 84.07 L406.40 72.92 L406.90 61.96 L407.40 52.65 L407.90 46.40 L408.40 44.20 L408.92 45.62 L409.45 49.84 L409.97 56.69 L410.50 65.89 L411.02 76.97 L411.55 89.30 L412.07 102.10 L412.60 114.44 L413.12 125.36 L413.65 133.93 L414.18 139.41 L414.70 141.30 L415.21 140.13 L415.71 136.68 L416.22 131.12 L416.73 123.74 L417.23 114.90 L417.74 105.03 L418.25 94.59 L418.75 84.05 L419.26 73.88 L419.77 64.50 L420.27 56.29 L420.78 49.57 L421.29 44.59 L421.79 41.53 L422.30 40.50 L422.82 41.41 L423.34 44.09 L423.85 48.41 L424.37 54.14 L424.89 61.02 L425.41 68.71 L425.92 76.88 L426.44 85.19 L426.96 93.33 L427.48 101.02 L427.99 108.02 L428.51 114.17 L429.03 119.32 L429.55 123.40 L430.06 126.34 L430.58 128.11 L431.10 128.70 L431.62 128.16 L432.13 126.58 L432.65 124.00 L433.16 120.53 L433.68 116.30 L434.19 111.45 L434.70 106.16 L435.22 100.59 L435.74 94.92 L436.25 89.30 L436.76 83.89 L437.28 78.80 L437.80 74.15 L438.31 70.01 L438.82 66.45 L439.34 63.50 L439.85 61.19 L440.37 59.53 L440.88 58.53 L441.40 58.20 L441.90 58.53 L442.40 59.49 L442.90 61.07 L443.40 63.21 L443.90 65.85 L444.40 68.92 L444.90 72.32 L445.40 75.96 L445.90 79.75 L446.40 83.60 L446.90 87.43 L447.40 91.14 L447.90 94.67 L448.40 97.97 L448.90 100.99 L449.40 103.69 L449.90 106.05 L450.40 108.05 L450.90 109.69 L451.40 110.97 L451.90 111.88 L452.40 112.42 L452.90 112.60 L453.42 112.41 L453.93 111.86 L454.45 110.95 L454.96 109.70 L455.48 108.15 L455.99 106.32 L456.51 104.25 L457.02 101.98 L457.54 99.57 L458.05 97.05 L458.57 94.47 L459.08 91.87 L459.60 89.30 L460.12 86.80 L460.63 84.39 L461.15 82.12 L461.66 80.00 L462.18 78.07 L462.69 76.33 L463.21 74.80 L463.72 73.50 L464.24 72.43 L464.75 71.58 L465.27 70.98 L465.78 70.62 L466.30 70.50 L466.81 70.62 L467.32 70.98 L467.83 71.57 L468.34 72.39 L468.85 73.41 L469.36 74.63 L469.87 76.01 L470.38 77.54 L470.89 79.19 L471.40 80.94 L471.91 82.76 L472.42 84.62 L472.93 86.50 L473.44 88.37 L473.96 90.22 L474.47 92.00 L474.98 93.72 L475.49 95.35 L476.00 96.87 L476.51 98.27 L477.02 99.55 L477.53 100.69 L478.04 101.69 L478.55 102.55 L479.06 103.25 L479.57 103.79 L480.08 104.19 L480.59 104.42 L481.10 104.50 L481.61 104.41 L482.13 104.16 L482.64 103.73 L483.15 103.15 L483.66 102.41 L484.18 101.54 L484.69 100.54 L485.20 99.43 L485.72 98.22 L486.23 96.94 L486.74 95.60 L487.25 94.22 L487.77 92.81 L488.28 91.40 L488.79 89.99 L489.31 88.62 L489.82 87.28 L490.33 85.99 L490.85 84.77 L491.36 83.62 L491.87 82.55 L492.38 81.57 L492.90 80.69 L493.41 79.90 L493.92 79.22 L494.44 78.63 L494.95 78.15 L495.46 77.78 L495.97 77.51 L496.49 77.35 L497.00 77.30 L497.50 77.35 L498.00 77.48 L498.50 77.71 L499.00 78.03 L499.50 78.43 L500.00 78.91 L500.50 79.46 L501.00 80.08 L501.50 80.76 L502.00 81.50 L502.50 82.28 L503.00 83.11 L503.50 83.96 L504.00 84.84 L504.50 85.73 L505.00 86.63 L505.50 87.53 L506.00 88.42 L506.50 89.30 L507.00 90.16 L507.50 90.99 L508.00 91.79 L508.50 92.55 L509.00 93.28 L509.50 93.96 L510.00 94.59 L510.50 95.18 L511.00 95.72 L511.50 96.21 L512.00 96.65 L512.50 97.04 L513.00 97.37 L513.50 97.66 L514.00 97.89 L514.50 98.07 L515.00 98.20 L515.50 98.27 L516.00 98.30 L516.51 98.27 L517.02 98.17 L517.53 98.01 L518.04 97.79 L518.55 97.50 L519.06 97.16 L519.57 96.77 L520.08 96.33 L520.59 95.85 L521.10 95.33 L521.61 94.78 L522.12 94.20 L522.63 93.60 L523.14 92.99 L523.65 92.37 L524.16 91.74 L524.67 91.11 L525.18 90.50 L525.69 89.89 L526.20 89.30 L526.71 88.73 L527.22 88.18 L527.73 87.66 L528.24 87.17 L528.75 86.70 L529.26 86.27 L529.77 85.87 L530.28 85.50 L530.79 85.17 L531.30 84.87 L531.81 84.60 L532.32 84.36 L532.83 84.15 L533.34 83.98 L533.85 83.83 L534.36 83.71 L534.87 83.62 L535.38 83.55 L535.89 83.51 L536.40 83.50 L536.90 83.51 L537.40 83.55 L537.90 83.62 L538.40 83.71 L538.90 83.83 L539.40 83.98 L539.90 84.14 L540.40 84.33 L540.90 84.54 L541.40 84.77 L541.90 85.02 L542.40 85.28 L542.90 85.56 L543.40 85.85 L543.90 86.15 L544.40 86.45 L544.90 86.77 L545.40 87.09 L545.90 87.41 L546.40 87.73 L546.90 88.05 L547.40 88.37 L547.90 88.69 L548.40 89.00 L548.90 89.30 L549.40 89.59 L549.90 89.88 L550.40 90.15 L550.90 90.42 L551.40 90.67 L551.90 90.91 L552.40 91.13 L552.90 91.34 L553.40 91.54 L553.90 91.73 L554.40 91.90 L554.90 92.06 L555.40 92.20 L555.90 92.34 L556.40 92.46 L556.90 92.56 L557.40 92.66 L557.90 92.74 L558.40 92.81 L558.90 92.87 L559.40 92.92 L559.90 92.95 L560.40 92.98 L560.90 92.99 L561.40 93.00 L561.90 92.99 L562.40 92.97 L562.90 92.93 L563.40 92.87 L563.90 92.80 L564.40 92.71 L564.90 92.61 L565.40 92.49 L565.90 92.36 L566.40 92.22 L566.90 92.07 L567.40 91.91 L567.90 91.74 L568.40 91.56 L568.90 91.38 L569.40 91.19 L569.90 91.00 L570.40 90.81 L570.90 90.61 L571.40 90.42 L571.90 90.22 L572.40 90.03 L572.90 89.84 L573.40 89.66 L573.90 89.48 L574.40 89.30 L574.90 89.13 L575.40 88.97 L575.90 88.81 L576.40 88.67 L576.90 88.53 L577.40 88.40 L577.90 88.27 L578.40 88.16 L578.90 88.05 L579.40 87.96 L579.90 87.87 L580.40 87.78 L580.90 87.71 L581.40 87.64 L581.90 87.58 L582.40 87.53 L582.90 87.48 L583.40 87.44 L583.90 87.41 L584.40 87.38 L584.90 87.35 L585.40 87.33 L585.90 87.32 L586.40 87.31 L586.90 87.30 L587.40 87.30 L587.91 87.31 L588.42 87.33 L588.93 87.36 L589.44 87.40 L589.95 87.45 L590.46 87.50 L590.97 87.54 L591.48 87.57 L591.99 87.59 L592.50 87.60" stroke="#6a6ae2"/>
<path d="M332.70 90.00 L333.24 90.05 L333.77 90.19 L334.31 90.40 L334.85 90.65 L335.39 90.90 L335.93 91.11 L336.46 91.25 L337.00 91.30 L337.50 91.25 L338.00 91.10 L338.50 90.86 L339.00 90.56 L339.50 90.23 L340.00 89.89 L340.50 89.57 L341.00 89.30 L341.50 89.08 L342.00 88.93 L342.50 88.84 L343.00 88.79 L343.50 88.78 L344.00 88.79 L344.50 88.80 L345.00 88.80 L345.50 88.81 L346.00 88.83 L346.50 88.87 L347.00 88.93 L347.50 89.02 L348.00 89.15 L348.50 89.30 L349.00 89.48 L349.50 89.67 L350.00 89.86 L350.50 90.04 L351.00 90.18 L351.50 90.27 L352.00 90.30 L352.50 90.27 L353.00 90.19 L353.50 90.06 L354.00 89.90 L354.50 89.71 L355.00 89.51 L355.50 89.30 L356.00 89.10 L356.50 88.93 L357.00 88.78 L357.50 88.66 L358.00 88.57 L358.50 88.52 L359.00 88.50 L359.50 88.54 L360.00 88.64 L360.50 88.79 L361.00 88.96 L361.50 89.14 L362.00 89.30 L362.50 89.43 L363.00 89.51 L363.50 89.56 L364.00 89.59 L364.50 89.60 L365.00 89.60 L365.50 89.63 L366.00 89.66 L366.50 89.58 L367.00 89.30 L367.50 88.81 L368.00 88.24 L368.50 87.78 L369.00 87.60 L369.50 87.65 L370.00 87.81 L370.50 88.06 L371.00 88.36 L371.50 88.69 L372.00 89.01 L372.50 89.30 L373.00 89.54 L373.50 89.73 L374.00 89.85 L374.50 89.93 L375.00 89.98 L375.50 89.99 L376.00 90.00 L376.50 89.99 L377.00 89.95 L377.50 89.89 L378.00 89.82 L378.50 89.73 L379.00 89.62 L379.50 89.52 L380.00 89.41 L380.50 89.30 L381.00 89.20 L381.50 89.11 L382.00 89.02 L382.50 88.96 L383.00 88.90 L383.50 88.86 L384.00 88.82 L384.50 88.81 L385.00 88.80 L385.50 88.81 L386.00 88.82 L386.50 88.85 L387.00 88.90 L387.50 88.95 L388.00 89.01 L388.50 89.07 L389.00 89.15 L389.50 89.22 L390.00 89.30 L390.50 89.38 L391.00 89.45 L391.50 89.53 L392.00 89.59 L392.50 89.65 L393.00 89.70 L393.50 89.75 L394.00 89.78 L394.50 89.79 L395.00 89.80 L395.50 89.79 L396.00 89.77 L396.50 89.74 L397.00 89.68 L397.50 89.61 L398.00 89.53 L398.50 89.42 L399.00 89.30 L399.50 89.17 L400.00 89.03 L400.50 88.89 L401.00 88.77 L401.50 88.66 L402.00 88.57 L402.50 88.52 L403.00 88.50 L403.50 88.50 L404.00 88.50 L404.50 88.52 L405.00 88.58 L405.50 88.69 L406.00 88.87 L406.50 89.14 L407.00 89.48 L407.50 89.89 L408.00 90.34 L408.50 90.78 L409.00 91.19 L409.50 91.52 L410.00 91.73 L410.50 91.80 L411.03 91.56 L411.56 90.88 L412.09 89.87 L412.61 88.72 L413.14 87.64 L413.67 86.88 L414.20 86.60 L414.73 86.68 L415.27 86.96 L415.80 87.57 L416.33 88.62 L416.87 90.07 L417.40 91.77 L417.93 93.40 L418.47 94.57 L419.00 95.00 L419.52 94.69 L420.04 93.80 L420.56 92.48 L421.08 90.91 L421.60 89.30 L422.12 87.82 L422.64 86.60 L423.16 85.71 L423.68 85.18 L424.20 85.00 L424.72 85.13 L425.25 85.53 L425.77 86.15 L426.29 86.94 L426.82 87.86 L427.34 88.82 L427.86 89.77 L428.38 90.66 L428.91 91.43 L429.43 92.06 L429.95 92.52 L430.48 92.81 L431.00 92.90 L431.50 92.85 L432.00 92.70 L432.50 92.45 L433.00 92.12 L433.50 91.71 L434.00 91.23 L434.50 90.71 L435.00 90.16 L435.50 89.59 L436.00 89.02 L436.50 88.46 L437.00 87.94 L437.50 87.46 L438.00 87.03 L438.50 86.67 L439.00 86.38 L439.50 86.17 L440.00 86.04 L440.50 86.00 L441.03 86.09 L441.56 86.34 L442.09 86.74 L442.61 87.27 L443.14 87.89 L443.67 88.58 L444.20 89.30 L444.73 90.01 L445.26 90.67 L445.79 91.26 L446.31 91.74 L446.84 92.10 L447.37 92.32 L447.90 92.40 L448.40 92.37 L448.91 92.27 L449.41 92.12 L449.92 91.91 L450.42 91.64 L450.93 91.33 L451.43 90.98 L451.94 90.59 L452.44 90.17 L452.95 89.74 L453.45 89.30 L453.95 88.86 L454.46 88.43 L454.96 88.01 L455.47 87.62 L455.97 87.27 L456.48 86.96 L456.98 86.69 L457.49 86.48 L457.99 86.33 L458.50 86.23 L459.00 86.20 L459.50 86.24 L460.00 86.35 L460.50 86.54 L461.00 86.79 L461.50 87.09 L462.00 87.43 L462.50 87.80 L463.00 88.18 L463.50 88.57 L464.00 88.94 L464.50 89.30 L465.00 89.63 L465.50 89.92 L466.00 90.18 L466.50 90.39 L467.00 90.57 L467.50 90.71 L468.00 90.82 L468.50 90.90 L469.00 90.96 L469.50 90.99 L470.00 91.00 L470.50 90.96 L471.00 90.83 L471.50 90.63 L472.00 90.38 L472.50 90.10 L473.00 89.81 L473.50 89.54 L474.00 89.30 L474.50 89.11 L475.00 88.97 L475.50 88.87 L476.00 88.82 L476.50 88.80 L477.00 88.80 L477.50 88.80 L478.00 88.80 L478.50 88.78 L479.00 88.73 L479.50 88.65 L480.00 88.53 L480.50 88.39 L481.00 88.23 L481.50 88.04 L482.00 87.85 L482.50 87.65 L483.00 87.45 L483.50 87.26 L484.00 87.08 L484.50 86.91 L485.00 86.77 L485.50 86.65 L486.00 86.57 L486.50 86.52 L487.00 86.50 L487.50 86.53 L488.00 86.63 L488.50 86.79 L489.00 87.00 L489.50 87.27 L490.00 87.57 L490.50 87.90 L491.00 88.25 L491.50 88.60 L492.00 88.96 L492.50 89.30 L493.00 89.63 L493.50 89.93 L494.00 90.20 L494.50 90.44 L495.00 90.65 L495.50 90.82 L496.00 90.96 L496.50 91.07 L497.00 91.14 L497.50 91.19 L498.00 91.20 L498.50 91.14 L499.00 90.96 L499.50 90.66 L500.00 90.28 L500.50 89.81 L501.00 89.30 L501.50 88.78 L502.00 88.28 L502.50 87.84 L503.00 87.49 L503.50 87.27 L504.00 87.20 L504.50 87.23 L505.00 87.34 L505.50 87.52 L506.00 87.80 L506.50 88.19 L507.00 88.69 L507.50 89.30 L508.00 89.98 L508.50 90.71 L509.00 91.42 L509.50 92.06 L510.00 92.56 L510.50 92.89 L511.00 93.00 L511.50 92.94 L512.00 92.75 L512.50 92.45 L513.00 92.05 L513.50 91.57 L514.00 91.04 L514.50 90.46 L515.00 89.88 L515.50 89.30 L516.00 88.75 L516.50 88.24 L517.00 87.79 L517.50 87.40 L518.00 87.07 L518.50 86.82 L519.00 86.64 L519.50 86.54 L520.00 86.50 L520.50 86.57 L521.00 86.77 L521.50 87.08 L522.00 87.49 L522.50 87.94 L523.00 88.42 L523.50 88.88 L524.00 89.30 L524.50 89.66 L525.00 89.95 L525.50 90.16 L526.00 90.31 L526.50 90.41 L527.00 90.46 L527.50 90.49 L528.00 90.50 L528.50 90.48 L529.00 90.40 L529.50 90.28 L530.00 90.13 L530.50 89.94 L531.00 89.74 L531.50 89.52 L532.00 89.30 L532.50 89.09 L533.00 88.89 L533.50 88.72 L534.00 88.57 L534.50 88.45 L535.00 88.37 L535.50 88.32 L536.00 88.30 L536.50 88.31 L537.00 88.35 L537.50 88.42 L538.00 88.51 L538.50 88.62 L539.00 88.76 L539.50 88.92 L540.00 89.10 L540.50 89.30 L541.00 89.50 L541.50 89.71 L542.00 89.91 L542.50 90.10 L543.00 90.27 L543.50 90.41 L544.00 90.51 L544.50 90.58 L545.00 90.60 L545.50 90.58 L546.00 90.53 L546.50 90.44 L547.00 90.33 L547.50 90.19 L548.00 90.03 L548.50 89.85 L549.00 89.67 L549.50 89.48 L550.00 89.30 L550.50 89.12 L551.00 88.96 L551.50 88.81 L552.00 88.68 L552.50 88.56 L553.00 88.47 L553.50 88.39 L554.00 88.34 L554.50 88.31 L555.00 88.30 L555.50 88.31 L556.00 88.35 L556.50 88.41 L557.00 88.50 L557.50 88.60 L558.00 88.72 L558.50 88.86 L559.00 89.00 L559.50 89.15 L560.00 89.30 L560.50 89.45 L561.00 89.59 L561.50 89.72 L562.00 89.84 L562.50 89.95 L563.00 90.04 L563.50 90.11 L564.00 90.16 L564.50 90.19 L565.00 90.20 L565.50 90.19 L566.00 90.15 L566.50 90.09 L567.00 90.01 L567.50 89.92 L568.00 89.80 L568.50 89.68 L569.00 89.56 L569.50 89.43 L570.00 89.30 L570.50 89.18 L571.00 89.06 L571.50 88.96 L572.00 88.86 L572.50 88.78 L573.00 88.72 L573.50 88.67 L574.00 88.63 L574.50 88.61 L575.00 88.60 L575.50 88.61 L576.00 88.63 L576.50 88.67 L577.00 88.72 L577.50 88.78 L578.00 88.86 L578.50 88.96 L579.00 89.06 L579.50 89.18 L580.00 89.30 L580.50 89.43 L581.00 89.56 L581.50 89.68 L582.00 89.80 L582.50 89.92 L583.00 90.01 L583.50 90.09 L584.00 90.15 L584.50 90.19 L585.00 90.20 L585.50 90.17 L586.00 90.10 L586.50 89.98 L587.00 89.84 L587.50 89.67 L588.00 89.51 L588.50 89.37 L589.00 89.24 L589.50 89.14 L590.00 89.08 L590.50 89.03 L591.00 89.01 L591.50 89.00 L592.00 89.00 L592.50 89.00" stroke="#58b280"/>
<path d="M332.70 88.80 L333.23 88.82 L333.76 88.86 L334.29 88.96 L334.82 89.10 L335.35 89.30 L335.88 89.54 L336.41 89.78 L336.94 90.00 L337.47 90.15 L338.00 90.20 L338.50 90.18 L339.00 90.11 L339.50 90.00 L340.00 89.85 L340.50 89.68 L341.00 89.49 L341.50 89.30 L342.00 89.11 L342.50 88.94 L343.00 88.79 L343.50 88.67 L344.00 88.57 L344.50 88.52 L345.00 88.50 L345.50 88.52 L346.00 88.57 L346.50 88.66 L347.00 88.78 L347.50 88.93 L348.00 89.10 L348.50 89.30 L349.00 89.51 L349.50 89.71 L350.00 89.90 L350.50 90.06 L351.00 90.19 L351.50 90.27 L352.00 90.30 L352.50 90.28 L353.00 90.21 L353.50 90.11 L354.00 89.98 L354.50 89.82 L355.00 89.65 L355.50 89.47 L356.00 89.30 L356.50 89.14 L357.00 89.00 L357.50 88.87 L358.00 88.77 L358.50 88.70 L359.00 88.64 L359.50 88.61 L360.00 88.60 L360.50 88.61 L361.00 88.64 L361.50 88.70 L362.00 88.77 L362.50 88.87 L363.00 89.00 L363.50 89.14 L364.00 89.30 L364.50 89.47 L365.00 89.65 L365.50 89.82 L366.00 89.98 L366.50 90.11 L367.00 90.21 L367.50 90.28 L368.00 90.30 L368.50 90.28 L369.00 90.21 L369.50 90.10 L370.00 89.97 L370.50 89.81 L371.00 89.64 L371.50 89.46 L372.00 89.30 L372.50 89.15 L373.00 89.02 L373.50 88.92 L374.00 88.83 L374.50 88.77 L375.00 88.73 L375.50 88.71 L376.00 88.70 L376.50 88.71 L377.00 88.74 L377.50 88.79 L378.00 88.87 L378.50 88.95 L379.00 89.06 L379.50 89.18 L380.00 89.30 L380.50 89.43 L381.00 89.56 L381.50 89.68 L382.00 89.78 L382.50 89.88 L383.00 89.94 L383.50 89.99 L384.00 90.00 L384.50 89.99 L385.00 89.95 L385.50 89.88 L386.00 89.79 L386.50 89.69 L387.00 89.57 L387.50 89.44 L388.00 89.30 L388.50 89.16 L389.00 89.03 L389.50 88.91 L390.00 88.81 L390.50 88.72 L391.00 88.65 L391.50 88.61 L392.00 88.60 L392.50 88.62 L393.00 88.66 L393.50 88.73 L394.00 88.83 L394.50 88.94 L395.00 89.06 L395.50 89.18 L396.00 89.30 L396.50 89.41 L397.00 89.51 L397.50 89.60 L398.00 89.67 L398.50 89.73 L399.00 89.77 L399.50 89.79 L400.00 89.80 L400.50 89.82 L401.00 89.88 L401.50 89.96 L402.00 90.08 L402.50 90.20 L403.00 90.32 L403.50 90.44 L404.00 90.52 L404.50 90.58 L405.00 90.60 L405.50 90.55 L406.00 90.40 L406.50 90.16 L407.00 89.85 L407.50 89.49 L408.00 89.11 L408.50 88.73 L409.00 88.39 L409.50 88.13 L410.00 87.96 L410.50 87.90 L411.00 87.98 L411.50 88.22 L412.00 88.59 L412.50 89.05 L413.00 89.55 L413.50 90.04 L414.00 90.44 L414.50 90.71 L415.00 90.80 L415.50 90.71 L416.00 90.44 L416.50 90.04 L417.00 89.55 L417.50 89.05 L418.00 88.59 L418.50 88.22 L419.00 87.98 L419.50 87.90 L420.00 87.93 L420.50 88.04 L421.00 88.21 L421.50 88.44 L422.00 88.75 L422.50 89.10 L423.00 89.50 L423.50 89.92 L424.00 90.32 L424.50 90.68 L425.00 90.96 L425.50 91.14 L426.00 91.20 L426.50 91.13 L427.00 90.91 L427.50 90.58 L428.00 90.17 L428.50 89.73 L429.00 89.30 L429.50 88.91 L430.00 88.58 L430.50 88.32 L431.00 88.14 L431.50 88.03 L432.00 88.00 L432.50 87.98 L433.00 87.94 L433.50 87.86 L434.00 87.75 L434.50 87.62 L435.00 87.48 L435.50 87.32 L436.00 87.15 L436.50 86.98 L437.00 86.82 L437.50 86.68 L438.00 86.55 L438.50 86.44 L439.00 86.36 L439.50 86.32 L440.00 86.30 L440.53 86.36 L441.05 86.56 L441.58 86.87 L442.11 87.28 L442.63 87.79 L443.16 88.36 L443.69 88.98 L444.21 89.62 L444.74 90.25 L445.27 90.84 L445.79 91.36 L446.32 91.80 L446.85 92.13 L447.37 92.33 L447.90 92.40 L448.41 92.29 L448.91 91.99 L449.42 91.53 L449.93 90.96 L450.44 90.36 L450.94 89.79 L451.45 89.30 L451.96 88.92 L452.46 88.67 L452.97 88.53 L453.48 88.48 L453.99 88.48 L454.49 88.49 L455.00 88.50 L455.51 88.48 L456.02 88.40 L456.52 88.29 L457.03 88.13 L457.54 87.95 L458.05 87.75 L458.55 87.55 L459.06 87.35 L459.57 87.17 L460.08 87.01 L460.58 86.90 L461.09 86.82 L461.60 86.80 L462.12 86.85 L462.65 87.01 L463.18 87.26 L463.70 87.58 L464.23 87.97 L464.75 88.40 L465.28 88.85 L465.80 89.30 L466.32 89.73 L466.85 90.12 L467.38 90.47 L467.90 90.77 L468.43 91.00 L468.95 91.17 L469.48 91.27 L470.00 91.30 L470.50 91.27 L471.00 91.19 L471.50 91.05 L472.00 90.86 L472.50 90.64 L473.00 90.39 L473.50 90.12 L474.00 89.84 L474.50 89.57 L475.00 89.30 L475.50 89.05 L476.00 88.82 L476.50 88.62 L477.00 88.45 L477.50 88.31 L478.00 88.19 L478.50 88.11 L479.00 88.05 L479.50 88.01 L480.00 88.00 L480.50 88.02 L481.00 88.06 L481.50 88.14 L482.00 88.25 L482.50 88.38 L483.00 88.54 L483.50 88.71 L484.00 88.90 L484.50 89.10 L485.00 89.30 L485.50 89.50 L486.00 89.70 L486.50 89.89 L487.00 90.06 L487.50 90.22 L488.00 90.35 L488.50 90.46 L489.00 90.54 L489.50 90.58 L490.00 90.60 L490.50 90.58 L491.00 90.53 L491.50 90.44 L492.00 90.33 L492.50 90.19 L493.00 90.03 L493.50 89.85 L494.00 89.67 L494.50 89.48 L495.00 89.30 L495.50 89.12 L496.00 88.96 L496.50 88.81 L497.00 88.68 L497.50 88.56 L498.00 88.47 L498.50 88.39 L499.00 88.34 L499.50 88.31 L500.00 88.30 L500.50 88.31 L501.00 88.34 L501.50 88.40 L502.00 88.48 L502.50 88.57 L503.00 88.69 L503.50 88.82 L504.00 88.97 L504.50 89.13 L505.00 89.30 L505.50 89.47 L506.00 89.65 L506.50 89.82 L507.00 89.98 L507.50 90.13 L508.00 90.26 L508.50 90.36 L509.00 90.44 L509.50 90.48 L510.00 90.50 L510.50 90.48 L511.00 90.43 L511.50 90.35 L512.00 90.24 L512.50 90.11 L513.00 89.96 L513.50 89.80 L514.00 89.63 L514.50 89.46 L515.00 89.30 L515.50 89.15 L516.00 89.01 L516.50 88.89 L517.00 88.78 L517.50 88.69 L518.00 88.62 L518.50 88.57 L519.00 88.53 L519.50 88.51 L520.00 88.50 L520.50 88.51 L521.00 88.53 L521.50 88.57 L522.00 88.62 L522.50 88.69 L523.00 88.78 L523.50 88.89 L524.00 89.01 L524.50 89.15 L525.00 89.30 L525.50 89.46 L526.00 89.63 L526.50 89.80 L527.00 89.96 L527.50 90.11 L528.00 90.24 L528.50 90.35 L529.00 90.43 L529.50 90.48 L530.00 90.50 L530.51 90.51 L531.01 90.55 L531.52 90.61 L532.03 90.70 L532.53 90.80 L533.04 90.91 L533.55 91.04 L534.05 91.16 L534.56 91.29 L535.07 91.40 L535.57 91.50 L536.08 91.59 L536.59 91.65 L537.09 91.69 L537.60 91.70 L538.13 91.64 L538.66 91.47 L539.19 91.18 L539.71 90.81 L540.24 90.35 L540.77 89.84 L541.30 89.30 L541.83 88.75 L542.36 88.23 L542.89 87.75 L543.41 87.35 L543.94 87.05 L544.47 86.86 L545.00 86.80 L545.52 86.89 L546.03 87.15 L546.55 87.55 L547.06 88.04 L547.58 88.56 L548.09 89.07 L548.61 89.51 L549.12 89.87 L549.64 90.14 L550.15 90.32 L550.67 90.43 L551.18 90.48 L551.70 90.50 L552.23 90.46 L552.76 90.33 L553.29 90.10 L553.82 89.76 L554.35 89.30 L554.88 88.77 L555.41 88.22 L555.94 87.74 L556.47 87.42 L557.00 87.30 L557.50 87.35 L558.00 87.48 L558.50 87.70 L559.00 87.98 L559.50 88.30 L560.00 88.64 L560.50 88.98 L561.00 89.30 L561.50 89.59 L562.00 89.83 L562.50 90.02 L563.00 90.17 L563.50 90.28 L564.00 90.35 L564.50 90.39 L565.00 90.40 L565.52 90.43 L566.03 90.50 L566.55 90.63 L567.06 90.79 L567.58 90.98 L568.09 91.19 L568.61 91.41 L569.12 91.62 L569.64 91.81 L570.15 91.97 L570.67 92.10 L571.18 92.17 L571.70 92.20 L572.23 92.04 L572.76 91.59 L573.29 90.92 L573.82 90.12 L574.35 89.30 L574.88 88.55 L575.41 87.92 L575.94 87.47 L576.47 87.19 L577.00 87.10 L577.51 87.17 L578.02 87.37 L578.52 87.69 L579.03 88.10 L579.54 88.57 L580.05 89.06 L580.55 89.54 L581.06 89.98 L581.57 90.37 L582.08 90.68 L582.58 90.91 L583.09 91.05 L583.60 91.10 L584.12 91.06 L584.65 90.95 L585.17 90.77 L585.69 90.53 L586.22 90.27 L586.74 89.98 L587.26 89.69 L587.79 89.42 L588.31 89.18 L588.84 88.98 L589.36 88.82 L589.88 88.70 L590.41 88.61 L590.93 88.56 L591.45 88.52 L591.98 88.51 L592.50 88.50" stroke="#dc6262"/>
</g>
<line x1="332.70" y1="89.50" x2="592.70" y2="89.50" stroke="#444" stroke-width="0.95"/>
<rect x="332.70" y="18.20" width="260.00" height="142.40" fill="none" stroke="#383838" stroke-width="1.2"/>
<path d="M343.53 160.60V158.80M343.53 18.20V20.00M354.37 160.60V158.80M354.37 18.20V20.00M365.20 160.60V158.80M365.20 18.20V20.00M376.03 160.60V157.10M376.03 18.20V21.70M386.87 160.60V158.80M386.87 18.20V20.00M397.70 160.60V158.80M397.70 18.20V20.00M408.53 160.60V158.80M408.53 18.20V20.00M419.37 160.60V158.80M419.37 18.20V20.00M430.20 160.60V157.10M430.20 18.20V21.70M441.03 160.60V158.80M441.03 18.20V20.00M451.87 160.60V158.80M451.87 18.20V20.00M462.70 160.60V158.80M462.70 18.20V20.00M473.53 160.60V158.80M473.53 18.20V20.00M484.37 160.60V157.10M484.37 18.20V21.70M495.20 160.60V158.80M495.20 18.20V20.00M506.03 160.60V158.80M506.03 18.20V20.00M516.87 160.60V158.80M516.87 18.20V20.00M527.70 160.60V158.80M527.70 18.20V20.00M538.53 160.60V157.10M538.53 18.20V21.70M549.37 160.60V158.80M549.37 18.20V20.00M560.20 160.60V158.80M560.20 18.20V20.00M571.03 160.60V158.80M571.03 18.20V20.00M581.87 160.60V158.80M581.87 18.20V20.00M332.70 142.80H334.50M592.70 142.80H590.90M332.70 125.00H336.20M592.70 125.00H589.20M332.70 107.20H334.50M592.70 107.20H590.90M332.70 89.40H336.20M592.70 89.40H589.20M332.70 71.60H334.50M592.70 71.60H590.90M332.70 53.80H336.20M592.70 53.80H589.20M332.70 36.00H334.50M592.70 36.00H590.90" stroke="#383838" stroke-width="1.1" fill="none"/>
<text transform="translate(369.30 170.90) scale(0.9332 1)" font-size="8.90">100</text>
<text transform="translate(423.47 170.90) scale(0.9332 1)" font-size="8.90">150</text>
<text transform="translate(477.86 170.90) scale(0.9179 1)" font-size="8.90">200</text>
<text transform="translate(532.02 170.90) scale(0.9179 1)" font-size="8.90">250</text>
<text transform="translate(586.29 170.90) scale(0.9108 1)" font-size="8.90">300</text>
<g transform="translate(327.70 160.80) rotate(-90)"><text transform="translate(-8.73 0.00) scale(0.9840 1)" font-size="8.90">−0.4</text></g>
<g transform="translate(327.70 125.20) rotate(-90)"><text transform="translate(-8.74 0.00) scale(0.9950 1)" font-size="8.90">−0.2</text></g>
<g transform="translate(327.70 89.60) rotate(-90)"><text transform="translate(-2.73 0.00) scale(1.1047 1)" font-size="8.90">0</text></g>
<g transform="translate(327.70 54.00) rotate(-90)"><text transform="translate(-6.04 0.00) scale(0.9847 1)" font-size="8.90">0.2</text></g>
<g transform="translate(327.70 18.40) rotate(-90)"><text transform="translate(-6.04 0.00) scale(0.9691 1)" font-size="8.90">0.4</text></g>
<text transform="translate(437.17 181.10) scale(1.0437 1)" font-size="11.60">y</text>
<text transform="translate(450.37 181.10) scale(1.1500 1)" font-size="11.60" letter-spacing="0.295">(pixel)</text>
<g transform="translate(314.70 89.40) rotate(-90)"><text transform="translate(-45.93 0.00) scale(1.0500 1)" font-size="11.40" letter-spacing="1.008">scattered</text><text transform="translate(18.32 0.00) scale(1.0489 1)" font-size="11.40">wave</text></g>
<text transform="translate(384.64 10.90) scale(1.1500 1)" font-size="12.00" letter-spacing="0.802">(b)</text>
<text transform="translate(409.53 10.90) scale(1.0000 1)" font-size="12.00">p2</text>
<path d="M426.00 7.40H433.60 M430.90 5.00L433.60 7.40L430.90 9.80" stroke="#111" stroke-width="1.1" fill="none" stroke-linejoin="miter"/>
<text transform="translate(434.81 10.90) scale(1.1500 1)" font-size="12.00" letter-spacing="0.107">p1,</text>
<path d="M467.60 6.50Q468.40 5.40 469.50 5.40L473.50 5.40M471.00 5.50Q470.20 8.10 469.80 10.30" stroke="#1a1a1a" stroke-width="1.25" fill="none" stroke-linecap="round"/>
<path d="M475.30 6.40H483.10M475.30 8.60H483.10" stroke="#1a1a1a" stroke-width="0.95" fill="none"/>
<text transform="translate(485.65 10.90) scale(1.1500 1)" font-size="12.00" letter-spacing="0.003">105</text>
<text transform="translate(514.48 10.90) scale(1.1500 1)" font-size="12.00" letter-spacing="0.089">min.</text>
<line x1="483.90" y1="30.50" x2="495.70" y2="30.50" stroke="#4040b0" stroke-width="1.3"/>
<text transform="translate(498.17 32.70) scale(1.0651 1)" font-size="10.30">incident</text>
<line x1="483.90" y1="39.55" x2="495.70" y2="39.55" stroke="#48976a" stroke-width="1.3"/>
<text transform="translate(498.59 41.75) scale(1.0865 1)" font-size="10.30">scattered</text>
<text transform="translate(549.17 41.75) scale(1.1395 1)" font-size="10.30">(11084)</text>
<line x1="483.90" y1="48.60" x2="495.70" y2="48.60" stroke="#bf4a4a" stroke-width="1.3"/>
<text transform="translate(498.59 50.80) scale(1.0865 1)" font-size="10.30">scattered</text>
<text transform="translate(549.17 50.80) scale(1.1395 1)" font-size="10.30">(11092)</text>
<clipPath id="clipc"><rect x="26.80" y="210.00" width="260.00" height="144.40"/></clipPath>
<g clip-path="url(#clipc)" fill="none" stroke-width="1" stroke-linejoin="round">
<path d="M26.80 282.40 L27.30 282.40 L27.81 282.40 L28.31 282.40 L28.81 282.40 L29.32 282.40 L29.82 282.41 L30.32 282.41 L30.82 282.41 L31.33 282.41 L31.83 282.42 L32.33 282.42 L32.84 282.42 L33.34 282.43 L33.84 282.43 L34.35 282.44 L34.85 282.44 L35.35 282.45 L35.85 282.45 L36.36 282.46 L36.86 282.46 L37.36 282.47 L37.87 282.47 L38.37 282.48 L38.87 282.49 L39.38 282.49 L39.88 282.50 L40.38 282.51 L40.88 282.51 L41.39 282.52 L41.89 282.53 L42.39 282.54 L42.90 282.54 L43.40 282.55 L43.90 282.56 L44.41 282.56 L44.91 282.57 L45.41 282.58 L45.92 282.59 L46.42 282.59 L46.92 282.60 L47.42 282.61 L47.93 282.61 L48.43 282.62 L48.93 282.62 L49.44 282.63 L49.94 282.64 L50.44 282.64 L50.95 282.65 L51.45 282.65 L51.95 282.66 L52.45 282.66 L52.96 282.67 L53.46 282.67 L53.96 282.68 L54.47 282.68 L54.97 282.68 L55.47 282.69 L55.98 282.69 L56.48 282.69 L56.98 282.69 L57.48 282.70 L57.99 282.70 L58.49 282.70 L58.99 282.70 L59.50 282.70 L60.00 282.70 L60.50 282.70 L61.00 282.69 L61.50 282.67 L62.00 282.65 L62.50 282.62 L63.00 282.59 L63.50 282.55 L64.00 282.50 L64.50 282.45 L65.00 282.40 L65.50 282.34 L66.00 282.29 L66.50 282.23 L67.00 282.18 L67.50 282.13 L68.00 282.08 L68.50 282.05 L69.00 282.02 L69.50 282.01 L70.00 282.00 L70.50 282.00 L71.00 282.02 L71.50 282.04 L72.00 282.08 L72.50 282.12 L73.00 282.16 L73.50 282.22 L74.00 282.28 L74.50 282.34 L75.00 282.40 L75.50 282.46 L76.00 282.52 L76.50 282.58 L77.00 282.64 L77.50 282.68 L78.00 282.72 L78.50 282.76 L79.00 282.78 L79.50 282.80 L80.00 282.80 L80.50 282.78 L81.00 282.74 L81.50 282.68 L82.00 282.60 L82.50 282.52 L83.00 282.46 L83.50 282.42 L84.00 282.40 L84.53 282.53 L85.05 282.85 L85.57 283.17 L86.10 283.30 L86.65 283.41 L87.20 283.56 L87.75 283.35 L88.30 282.40 L88.85 280.71 L89.40 278.69 L89.95 277.04 L90.50 276.40 L91.04 276.49 L91.57 276.81 L92.11 277.56 L92.65 278.92 L93.18 281.05 L93.72 283.91 L94.25 287.27 L94.79 290.72 L95.33 293.72 L95.86 295.77 L96.40 296.50 L96.92 296.19 L97.43 295.21 L97.95 293.45 L98.47 290.75 L98.98 287.05 L99.50 282.40 L100.02 277.06 L100.53 271.45 L101.05 266.15 L101.57 261.79 L102.08 258.91 L102.60 257.90 L103.11 258.50 L103.62 260.32 L104.12 263.35 L104.63 267.55 L105.14 272.84 L105.65 279.04 L106.15 285.87 L106.66 292.91 L107.17 299.70 L107.68 305.71 L108.18 310.44 L108.69 313.46 L109.20 314.50 L109.73 313.85 L110.25 311.93 L110.78 308.77 L111.31 304.45 L111.83 299.10 L112.36 292.87 L112.89 286.00 L113.41 278.74 L113.94 271.43 L114.47 264.40 L114.99 258.02 L115.52 252.63 L116.05 248.53 L116.57 245.97 L117.10 245.10 L117.62 245.78 L118.15 247.81 L118.67 251.13 L119.20 255.64 L119.72 261.22 L120.25 267.69 L120.77 274.83 L121.30 282.40 L121.83 290.11 L122.35 297.65 L122.88 304.72 L123.40 311.01 L123.92 316.23 L124.45 320.15 L124.97 322.58 L125.50 323.40 L126.01 322.87 L126.52 321.30 L127.03 318.70 L127.54 315.14 L128.05 310.67 L128.56 305.39 L129.07 299.42 L129.58 292.89 L130.09 285.96 L130.61 278.81 L131.12 271.63 L131.63 264.64 L132.14 258.03 L132.65 252.02 L133.16 246.80 L133.67 242.54 L134.18 239.39 L134.69 237.45 L135.20 236.80 L135.72 237.29 L136.24 238.77 L136.76 241.19 L137.28 244.52 L137.80 248.70 L138.31 253.64 L138.83 259.25 L139.35 265.42 L139.87 272.01 L140.39 278.90 L140.91 285.92 L141.43 292.93 L141.95 299.76 L142.47 306.25 L142.99 312.25 L143.50 317.61 L144.02 322.19 L144.54 325.88 L145.06 328.59 L145.58 330.24 L146.10 330.80 L146.61 330.37 L147.13 329.07 L147.64 326.93 L148.15 323.97 L148.67 320.25 L149.18 315.81 L149.69 310.74 L150.20 305.10 L150.72 299.00 L151.23 292.53 L151.74 285.81 L152.26 278.97 L152.77 272.12 L153.28 265.41 L153.80 258.96 L154.31 252.90 L154.82 247.35 L155.33 242.45 L155.85 238.27 L156.36 234.93 L156.87 232.49 L157.39 231.00 L157.90 230.50 L158.42 230.90 L158.93 232.08 L159.45 234.03 L159.96 236.70 L160.48 240.06 L160.99 244.03 L161.51 248.55 L162.02 253.54 L162.54 258.92 L163.05 264.58 L163.57 270.44 L164.08 276.41 L164.60 282.40 L165.12 288.31 L165.63 294.06 L166.15 299.58 L166.66 304.78 L167.18 309.61 L167.69 314.00 L168.21 317.91 L168.72 321.29 L169.24 324.10 L169.75 326.31 L170.27 327.91 L170.78 328.88 L171.30 329.20 L171.81 328.93 L172.32 328.12 L172.83 326.80 L173.34 324.97 L173.85 322.67 L174.36 319.94 L174.87 316.83 L175.38 313.38 L175.89 309.65 L176.40 305.69 L176.91 301.56 L177.42 297.32 L177.93 293.02 L178.44 288.73 L178.95 284.49 L179.45 280.34 L179.96 276.34 L180.47 272.52 L180.98 268.91 L181.49 265.53 L182.00 262.42 L182.51 259.58 L183.02 257.02 L183.53 254.76 L184.04 252.81 L184.55 251.15 L185.06 249.80 L185.57 248.75 L186.08 248.00 L186.59 247.55 L187.10 247.40 L187.60 247.56 L188.10 248.04 L188.60 248.84 L189.10 249.93 L189.60 251.31 L190.10 252.95 L190.60 254.83 L191.10 256.91 L191.60 259.18 L192.10 261.60 L192.60 264.13 L193.10 266.75 L193.60 269.41 L194.10 272.09 L194.60 274.76 L195.10 277.38 L195.60 279.94 L196.10 282.40 L196.60 284.75 L197.10 286.97 L197.60 289.05 L198.10 290.97 L198.60 292.74 L199.10 294.35 L199.60 295.80 L200.10 297.08 L200.60 298.22 L201.10 299.20 L201.60 300.04 L202.10 300.75 L202.60 301.34 L203.10 301.80 L203.60 302.16 L204.10 302.40 L204.60 302.55 L205.10 302.60 L205.60 302.55 L206.10 302.39 L206.61 302.13 L207.11 301.78 L207.61 301.32 L208.11 300.77 L208.61 300.13 L209.12 299.41 L209.62 298.61 L210.12 297.75 L210.62 296.81 L211.12 295.82 L211.63 294.79 L212.13 293.71 L212.63 292.60 L213.13 291.46 L213.64 290.31 L214.14 289.15 L214.64 287.99 L215.14 286.83 L215.64 285.69 L216.15 284.57 L216.65 283.47 L217.15 282.40 L217.65 281.37 L218.15 280.38 L218.66 279.43 L219.16 278.52 L219.66 277.67 L220.16 276.87 L220.66 276.11 L221.17 275.41 L221.67 274.76 L222.17 274.17 L222.67 273.62 L223.17 273.13 L223.68 272.68 L224.18 272.28 L224.68 271.92 L225.18 271.61 L225.69 271.34 L226.19 271.11 L226.69 270.92 L227.19 270.77 L227.69 270.65 L228.20 270.57 L228.70 270.52 L229.20 270.50 L229.70 270.52 L230.21 270.59 L230.71 270.70 L231.21 270.85 L231.72 271.04 L232.22 271.27 L232.73 271.54 L233.23 271.85 L233.73 272.20 L234.24 272.58 L234.74 273.00 L235.24 273.44 L235.75 273.91 L236.25 274.41 L236.75 274.93 L237.26 275.48 L237.76 276.04 L238.27 276.62 L238.77 277.21 L239.27 277.81 L239.78 278.42 L240.28 279.03 L240.78 279.65 L241.29 280.27 L241.79 280.88 L242.29 281.50 L242.80 282.10 L243.30 282.70 L243.81 283.28 L244.31 283.86 L244.81 284.42 L245.32 284.96 L245.82 285.49 L246.32 286.00 L246.83 286.49 L247.33 286.96 L247.83 287.41 L248.34 287.84 L248.84 288.24 L249.35 288.62 L249.85 288.98 L250.35 289.31 L250.86 289.62 L251.36 289.91 L251.86 290.16 L252.37 290.40 L252.87 290.61 L253.37 290.80 L253.88 290.96 L254.38 291.09 L254.89 291.20 L255.39 291.29 L255.89 291.35 L256.40 291.39 L256.90 291.40 L257.40 291.39 L257.90 291.36 L258.40 291.31 L258.91 291.23 L259.41 291.14 L259.91 291.03 L260.41 290.89 L260.91 290.74 L261.41 290.57 L261.91 290.38 L262.42 290.17 L262.92 289.95 L263.42 289.71 L263.92 289.45 L264.42 289.18 L264.92 288.90 L265.42 288.60 L265.93 288.29 L266.43 287.97 L266.93 287.63 L267.43 287.29 L267.93 286.94 L268.43 286.58 L268.94 286.21 L269.44 285.84 L269.94 285.47 L270.44 285.09 L270.94 284.70 L271.44 284.32 L271.94 283.93 L272.45 283.55 L272.95 283.16 L273.45 282.78 L273.95 282.40 L274.45 282.02 L274.95 281.65 L275.45 281.28 L275.96 280.92 L276.46 280.56 L276.96 280.22 L277.46 279.87 L277.96 279.54 L278.46 279.22 L278.96 278.90 L279.47 278.60 L279.97 278.30 L280.47 278.02 L280.97 277.75 L281.47 277.49 L281.97 277.24 L282.48 277.00 L282.98 276.78 L283.48 276.56 L283.98 276.37 L284.48 276.18 L284.98 276.01 L285.48 275.85 L285.99 275.70 L286.49 275.57 L286.99 275.45 L287.49 275.34 L287.99 275.25 L288.49 275.18 L288.99 275.11 L289.50 275.06 L290.00 275.03 L290.50 275.01 L291.00 275.00" stroke="#6a6ae2"/>
<path d="M26.80 286.00 L27.32 285.95 L27.83 285.81 L28.35 285.59 L28.87 285.30 L29.38 284.96 L29.90 284.60 L30.42 284.24 L30.93 283.90 L31.45 283.61 L31.97 283.39 L32.48 283.25 L33.00 283.20 L33.50 283.18 L34.00 283.12 L34.50 283.03 L35.00 282.90 L35.50 282.75 L36.00 282.58 L36.50 282.40 L37.00 282.22 L37.50 282.05 L38.00 281.90 L38.50 281.77 L39.00 281.68 L39.50 281.62 L40.00 281.60 L40.50 281.62 L41.00 281.66 L41.50 281.73 L42.00 281.83 L42.50 281.96 L43.00 282.09 L43.50 282.24 L44.00 282.40 L44.50 282.56 L45.00 282.71 L45.50 282.84 L46.00 282.97 L46.50 283.07 L47.00 283.14 L47.50 283.18 L48.00 283.20 L48.50 283.18 L49.00 283.14 L49.50 283.07 L50.00 282.97 L50.50 282.84 L51.00 282.71 L51.50 282.56 L52.00 282.40 L52.50 282.24 L53.00 282.09 L53.50 281.96 L54.00 281.83 L54.50 281.73 L55.00 281.66 L55.50 281.62 L56.00 281.60 L56.50 281.62 L57.00 281.66 L57.50 281.73 L58.00 281.83 L58.50 281.96 L59.00 282.09 L59.50 282.24 L60.00 282.40 L60.50 282.56 L61.00 282.71 L61.50 282.84 L62.00 282.97 L62.50 283.07 L63.00 283.14 L63.50 283.18 L64.00 283.20 L64.50 283.18 L65.00 283.14 L65.50 283.07 L66.00 282.97 L66.50 282.84 L67.00 282.71 L67.50 282.56 L68.00 282.40 L68.50 282.24 L69.00 282.09 L69.50 281.96 L70.00 281.83 L70.50 281.73 L71.00 281.66 L71.50 281.62 L72.00 281.60 L72.50 281.62 L73.00 281.67 L73.50 281.75 L74.00 281.86 L74.50 281.98 L75.00 282.12 L75.50 282.26 L76.00 282.40 L76.50 282.53 L77.00 282.65 L77.50 282.76 L78.00 282.84 L78.50 282.91 L79.00 282.96 L79.50 282.99 L80.00 283.00 L80.50 282.99 L81.00 282.97 L81.50 282.93 L82.00 282.88 L82.50 282.81 L83.00 282.75 L83.50 282.69 L84.00 282.62 L84.50 282.57 L85.00 282.53 L85.50 282.51 L86.00 282.50 L86.52 282.53 L87.04 282.59 L87.55 282.65 L88.07 282.64 L88.59 282.51 L89.11 282.26 L89.63 281.89 L90.15 281.47 L90.66 281.08 L91.18 280.80 L91.70 280.70 L92.23 280.78 L92.75 280.99 L93.28 281.31 L93.80 281.69 L94.33 282.07 L94.85 282.40 L95.38 282.66 L95.90 282.84 L96.42 282.94 L96.95 282.98 L97.47 283.00 L98.00 283.00 L98.52 283.02 L99.04 283.06 L99.56 283.14 L100.09 283.24 L100.61 283.37 L101.13 283.51 L101.65 283.65 L102.17 283.79 L102.69 283.93 L103.21 284.06 L103.74 284.16 L104.26 284.24 L104.78 284.28 L105.30 284.30 L105.81 284.31 L106.32 284.24 L106.83 283.89 L107.34 283.04 L107.86 281.63 L108.37 279.84 L108.88 278.04 L109.39 276.70 L109.90 276.20 L110.41 276.29 L110.92 276.60 L111.43 277.25 L111.93 278.38 L112.44 280.09 L112.95 282.40 L113.46 285.21 L113.97 288.27 L114.47 291.25 L114.98 293.75 L115.49 295.41 L116.00 296.00 L116.51 295.70 L117.03 294.81 L117.54 293.33 L118.06 291.29 L118.57 288.73 L119.09 285.73 L119.60 282.40 L120.11 278.90 L120.63 275.41 L121.14 272.15 L121.66 269.33 L122.17 267.15 L122.69 265.77 L123.20 265.30 L123.72 265.71 L124.24 266.94 L124.76 268.92 L125.29 271.59 L125.81 274.82 L126.33 278.48 L126.85 282.40 L127.37 286.38 L127.89 290.22 L128.41 293.72 L128.94 296.67 L129.46 298.92 L129.98 300.32 L130.50 300.80 L131.01 300.50 L131.52 299.61 L132.03 298.17 L132.54 296.24 L133.06 293.91 L133.57 291.25 L134.08 288.38 L134.59 285.39 L135.10 282.40 L135.61 279.49 L136.12 276.75 L136.63 274.25 L137.14 272.05 L137.66 270.20 L138.17 268.73 L138.68 267.66 L139.19 267.02 L139.70 266.80 L140.20 266.99 L140.71 267.54 L141.21 268.44 L141.72 269.65 L142.22 271.13 L142.73 272.82 L143.23 274.66 L143.74 276.60 L144.24 278.57 L144.75 280.52 L145.25 282.40 L145.75 284.16 L146.26 285.78 L146.76 287.23 L147.27 288.50 L147.77 289.58 L148.28 290.47 L148.78 291.19 L149.29 291.73 L149.79 292.10 L150.30 292.33 L150.80 292.40 L151.30 292.29 L151.81 291.97 L152.31 291.44 L152.82 290.74 L153.32 289.87 L153.83 288.89 L154.33 287.82 L154.83 286.70 L155.34 285.57 L155.84 284.45 L156.35 283.39 L156.85 282.40 L157.35 281.51 L157.86 280.72 L158.36 280.05 L158.87 279.50 L159.37 279.05 L159.88 278.71 L160.38 278.45 L160.88 278.26 L161.39 278.14 L161.89 278.06 L162.40 278.01 L162.90 278.00 L163.40 278.03 L163.91 278.12 L164.41 278.28 L164.91 278.49 L165.42 278.75 L165.92 279.06 L166.43 279.41 L166.93 279.80 L167.43 280.21 L167.94 280.64 L168.44 281.08 L168.94 281.52 L169.45 281.97 L169.95 282.40 L170.45 282.82 L170.96 283.22 L171.46 283.59 L171.96 283.94 L172.47 284.25 L172.97 284.54 L173.47 284.79 L173.98 285.00 L174.48 285.19 L174.99 285.34 L175.49 285.45 L175.99 285.53 L176.50 285.58 L177.00 285.60 L177.50 285.53 L178.00 285.34 L178.50 285.04 L179.00 284.64 L179.50 284.17 L180.00 283.67 L180.50 283.15 L181.00 282.64 L181.50 282.17 L182.00 281.75 L182.50 281.39 L183.00 281.10 L183.50 280.87 L184.00 280.70 L184.50 280.59 L185.00 280.52 L185.50 280.50 L186.00 280.54 L186.50 280.65 L187.00 280.84 L187.50 281.07 L188.00 281.35 L188.50 281.65 L189.00 281.96 L189.50 282.26 L190.00 282.53 L190.50 282.78 L191.00 282.99 L191.50 283.16 L192.00 283.29 L192.50 283.39 L193.00 283.45 L193.50 283.49 L194.00 283.50 L194.52 283.49 L195.04 283.47 L195.57 283.43 L196.09 283.36 L196.61 283.26 L197.13 283.11 L197.66 282.92 L198.18 282.68 L198.70 282.40 L199.22 282.08 L199.74 281.73 L200.27 281.36 L200.79 281.01 L201.31 280.68 L201.83 280.40 L202.36 280.18 L202.88 280.05 L203.40 280.00 L203.93 280.02 L204.45 280.09 L204.97 280.22 L205.50 280.43 L206.03 280.75 L206.55 281.17 L207.08 281.73 L207.60 282.40 L208.12 283.17 L208.65 284.01 L209.18 284.86 L209.70 285.67 L210.23 286.38 L210.75 286.93 L211.28 287.28 L211.80 287.40 L212.30 287.29 L212.80 286.96 L213.30 286.45 L213.80 285.80 L214.30 285.04 L214.80 284.25 L215.30 283.46 L215.80 282.73 L216.30 282.09 L216.80 281.57 L217.30 281.17 L217.80 280.88 L218.30 280.70 L218.80 280.59 L219.30 280.53 L219.80 280.51 L220.30 280.50 L220.83 280.53 L221.35 280.62 L221.88 280.79 L222.41 281.02 L222.93 281.32 L223.46 281.71 L223.99 282.15 L224.51 282.66 L225.04 283.19 L225.57 283.72 L226.09 284.23 L226.62 284.67 L227.15 285.01 L227.67 285.23 L228.20 285.30 L228.71 285.28 L229.22 285.20 L229.73 285.08 L230.24 284.92 L230.75 284.72 L231.26 284.49 L231.77 284.24 L232.28 283.97 L232.79 283.69 L233.30 283.42 L233.81 283.16 L234.32 282.91 L234.83 282.69 L235.34 282.49 L235.86 282.32 L236.37 282.18 L236.88 282.08 L237.39 282.01 L237.90 281.97 L238.41 281.96 L238.92 281.96 L239.43 281.99 L239.94 282.02 L240.45 282.06 L240.96 282.11 L241.47 282.14 L241.98 282.17 L242.49 282.19 L243.00 282.20 L243.50 282.19 L244.00 282.17 L244.50 282.14 L245.00 282.09 L245.50 282.03 L246.00 281.96 L246.50 281.87 L247.00 281.78 L247.50 281.67 L248.00 281.56 L248.50 281.43 L249.00 281.30 L249.50 281.17 L250.00 281.03 L250.50 280.89 L251.00 280.75 L251.50 280.61 L252.00 280.47 L252.50 280.33 L253.00 280.20 L253.50 280.07 L254.00 279.94 L254.50 279.83 L255.00 279.72 L255.50 279.63 L256.00 279.54 L256.50 279.47 L257.00 279.41 L257.50 279.36 L258.00 279.33 L258.50 279.31 L259.00 279.30 L259.50 279.34 L260.00 279.46 L260.50 279.66 L261.00 279.93 L261.50 280.24 L262.00 280.60 L262.50 280.97 L263.00 281.36 L263.50 281.73 L264.00 282.08 L264.50 282.40 L265.00 282.68 L265.50 282.91 L266.00 283.10 L266.50 283.24 L267.00 283.35 L267.50 283.42 L268.00 283.46 L268.50 283.48 L269.00 283.49 L269.50 283.50 L270.00 283.50 L270.50 283.47 L271.00 283.39 L271.50 283.27 L272.00 283.11 L272.50 282.92 L273.00 282.74 L273.50 282.56 L274.00 282.40 L274.50 282.27 L275.00 282.16 L275.50 282.09 L276.00 282.04 L276.50 282.02 L277.00 282.01 L277.50 282.00 L278.00 282.00 L278.50 282.00 L279.00 282.01 L279.50 282.02 L280.00 282.04 L280.50 282.07 L281.00 282.12 L281.50 282.20 L282.00 282.29 L282.50 282.40 L283.00 282.53 L283.50 282.67 L284.00 282.82 L284.50 282.97 L285.00 283.11 L285.50 283.23 L286.00 283.32 L286.50 283.38 L287.00 283.40" stroke="#58b280"/>
<path d="M26.80 282.00 L27.31 282.01 L27.83 282.02 L28.34 282.05 L28.86 282.10 L29.37 282.18 L29.89 282.28 L30.40 282.40 L30.91 282.54 L31.43 282.70 L31.94 282.85 L32.46 282.99 L32.97 283.10 L33.49 283.18 L34.00 283.20 L34.50 283.19 L35.00 283.15 L35.50 283.08 L36.00 282.99 L36.50 282.87 L37.00 282.73 L37.50 282.57 L38.00 282.40 L38.50 282.22 L39.00 282.04 L39.50 281.87 L40.00 281.71 L40.50 281.58 L41.00 281.48 L41.50 281.42 L42.00 281.40 L42.50 281.42 L43.00 281.48 L43.50 281.58 L44.00 281.71 L44.50 281.87 L45.00 282.04 L45.50 282.22 L46.00 282.40 L46.50 282.57 L47.00 282.73 L47.50 282.87 L48.00 282.99 L48.50 283.08 L49.00 283.15 L49.50 283.19 L50.00 283.20 L50.50 283.19 L51.00 283.15 L51.50 283.08 L52.00 282.99 L52.50 282.87 L53.00 282.73 L53.50 282.57 L54.00 282.40 L54.50 282.22 L55.00 282.04 L55.50 281.87 L56.00 281.71 L56.50 281.58 L57.00 281.48 L57.50 281.42 L58.00 281.40 L58.50 281.42 L59.00 281.48 L59.50 281.58 L60.00 281.71 L60.50 281.87 L61.00 282.04 L61.50 282.22 L62.00 282.40 L62.50 282.57 L63.00 282.73 L63.50 282.87 L64.00 282.99 L64.50 283.08 L65.00 283.15 L65.50 283.19 L66.00 283.20 L66.50 283.18 L67.00 283.14 L67.50 283.07 L68.00 282.97 L68.50 282.84 L69.00 282.71 L69.50 282.56 L70.00 282.40 L70.50 282.24 L71.00 282.09 L71.50 281.96 L72.00 281.83 L72.50 281.73 L73.00 281.66 L73.50 281.62 L74.00 281.60 L74.50 281.62 L75.00 281.67 L75.50 281.75 L76.00 281.86 L76.50 281.98 L77.00 282.12 L77.50 282.26 L78.00 282.40 L78.50 282.53 L79.00 282.65 L79.50 282.76 L80.00 282.84 L80.50 282.91 L81.00 282.96 L81.50 282.99 L82.00 283.00 L82.50 282.98 L83.00 282.91 L83.50 282.80 L84.00 282.68 L84.50 282.54 L85.00 282.40 L85.50 282.28 L86.00 282.18 L86.50 282.10 L87.00 282.04 L87.50 282.01 L88.00 282.00 L88.53 281.98 L89.05 281.93 L89.58 281.85 L90.10 281.75 L90.62 281.63 L91.15 281.50 L91.67 281.37 L92.20 281.25 L92.72 281.15 L93.25 281.07 L93.77 281.02 L94.30 281.00 L94.81 281.04 L95.33 281.14 L95.84 281.31 L96.35 281.52 L96.87 281.76 L97.38 282.02 L97.89 282.28 L98.41 282.52 L98.92 282.73 L99.43 282.91 L99.95 283.06 L100.46 283.17 L100.97 283.24 L101.49 283.29 L102.00 283.30 L102.50 283.29 L103.00 283.27 L103.50 283.23 L104.00 283.16 L104.50 283.05 L105.00 282.89 L105.50 282.67 L106.00 282.40 L106.50 282.08 L107.00 281.74 L107.50 281.38 L108.00 281.04 L108.50 280.74 L109.00 280.50 L109.50 280.35 L110.00 280.30 L110.50 280.32 L111.00 280.37 L111.50 280.50 L112.00 280.74 L112.50 281.12 L113.00 281.67 L113.50 282.40 L114.00 283.28 L114.50 284.24 L115.00 285.23 L115.50 286.13 L116.00 286.86 L116.50 287.34 L117.00 287.50 L117.50 287.42 L118.00 287.16 L118.50 286.69 L119.00 286.00 L119.50 285.05 L120.00 283.85 L120.50 282.40 L121.00 280.78 L121.50 279.07 L122.00 277.40 L122.50 275.91 L123.00 274.72 L123.50 273.96 L124.00 273.70 L124.52 273.82 L125.04 274.21 L125.56 274.88 L126.08 275.89 L126.60 277.27 L127.12 279.05 L127.64 281.20 L128.16 283.67 L128.68 286.34 L129.20 289.07 L129.72 291.68 L130.24 293.98 L130.76 295.77 L131.28 296.91 L131.80 297.30 L132.33 296.98 L132.85 296.04 L133.38 294.51 L133.91 292.45 L134.43 289.94 L134.96 287.08 L135.49 283.99 L136.01 280.80 L136.54 277.65 L137.07 274.69 L137.59 272.04 L138.12 269.83 L138.65 268.18 L139.17 267.15 L139.70 266.80 L140.20 267.00 L140.71 267.60 L141.21 268.56 L141.72 269.86 L142.22 271.44 L142.73 273.25 L143.23 275.21 L143.74 277.27 L144.24 279.35 L144.75 281.40 L145.25 283.37 L145.76 285.20 L146.26 286.88 L146.77 288.36 L147.27 289.65 L147.78 290.72 L148.28 291.59 L148.79 292.26 L149.29 292.73 L149.80 293.01 L150.30 293.10 L150.80 292.98 L151.31 292.64 L151.81 292.09 L152.32 291.34 L152.82 290.43 L153.33 289.39 L153.83 288.25 L154.33 287.05 L154.84 285.83 L155.34 284.63 L155.85 283.48 L156.35 282.40 L156.85 281.42 L157.36 280.54 L157.86 279.79 L158.37 279.15 L158.87 278.63 L159.38 278.21 L159.88 277.89 L160.38 277.66 L160.89 277.49 L161.39 277.38 L161.90 277.32 L162.40 277.30 L162.90 277.37 L163.40 277.60 L163.90 277.95 L164.40 278.43 L164.90 279.00 L165.40 279.64 L165.90 280.33 L166.40 281.04 L166.90 281.73 L167.40 282.40 L167.90 283.02 L168.40 283.57 L168.90 284.06 L169.40 284.46 L169.90 284.80 L170.40 285.06 L170.90 285.26 L171.40 285.39 L171.90 285.47 L172.40 285.50 L172.90 285.47 L173.41 285.39 L173.91 285.26 L174.42 285.08 L174.92 284.85 L175.42 284.59 L175.93 284.30 L176.43 283.97 L176.94 283.63 L177.44 283.28 L177.94 282.93 L178.45 282.57 L178.95 282.23 L179.46 281.90 L179.96 281.58 L180.46 281.29 L180.97 281.03 L181.47 280.79 L181.98 280.58 L182.48 280.40 L182.98 280.26 L183.49 280.15 L183.99 280.06 L184.50 280.02 L185.00 280.00 L185.50 280.06 L186.00 280.23 L186.50 280.50 L187.00 280.84 L187.50 281.23 L188.00 281.64 L188.50 282.03 L189.00 282.40 L189.50 282.72 L190.00 282.97 L190.50 283.17 L191.00 283.31 L191.50 283.41 L192.00 283.46 L192.50 283.49 L193.00 283.50 L193.50 283.50 L194.01 283.50 L194.51 283.51 L195.01 283.51 L195.52 283.50 L196.02 283.48 L196.53 283.43 L197.03 283.37 L197.53 283.27 L198.04 283.15 L198.54 282.98 L199.04 282.78 L199.55 282.54 L200.05 282.26 L200.56 281.94 L201.06 281.60 L201.56 281.25 L202.07 280.88 L202.57 280.50 L203.07 280.14 L203.58 279.80 L204.08 279.49 L204.59 279.22 L205.09 279.00 L205.59 278.83 L206.10 278.73 L206.60 278.70 L207.12 278.85 L207.65 279.29 L208.18 279.95 L208.70 280.75 L209.22 281.60 L209.75 282.40 L210.28 283.10 L210.80 283.65 L211.32 284.05 L211.85 284.31 L212.38 284.45 L212.90 284.50 L213.41 284.46 L213.91 284.34 L214.42 284.15 L214.92 283.90 L215.43 283.61 L215.93 283.30 L216.44 282.98 L216.94 282.68 L217.45 282.40 L217.96 282.16 L218.46 281.96 L218.97 281.80 L219.47 281.68 L219.98 281.60 L220.48 281.55 L220.99 281.52 L221.49 281.50 L222.00 281.50 L222.50 281.52 L223.00 281.58 L223.50 281.68 L224.00 281.82 L224.50 281.98 L225.00 282.18 L225.50 282.40 L226.00 282.63 L226.50 282.85 L227.00 283.06 L227.50 283.24 L228.00 283.38 L228.50 283.47 L229.00 283.50 L229.52 283.46 L230.03 283.35 L230.55 283.18 L231.07 282.95 L231.58 282.68 L232.10 282.40 L232.62 282.12 L233.13 281.85 L233.65 281.62 L234.17 281.45 L234.68 281.34 L235.20 281.30 L235.70 281.31 L236.20 281.33 L236.70 281.37 L237.20 281.42 L237.70 281.49 L238.20 281.57 L238.70 281.66 L239.20 281.76 L239.70 281.86 L240.20 281.98 L240.70 282.09 L241.20 282.22 L241.70 282.34 L242.20 282.46 L242.70 282.58 L243.20 282.70 L243.70 282.81 L244.20 282.91 L244.70 283.01 L245.20 283.10 L245.70 283.18 L246.20 283.24 L246.70 283.30 L247.20 283.34 L247.70 283.37 L248.20 283.39 L248.70 283.40 L249.22 283.38 L249.73 283.32 L250.25 283.20 L250.76 283.04 L251.28 282.82 L251.79 282.55 L252.31 282.24 L252.82 281.90 L253.34 281.56 L253.85 281.26 L254.37 281.01 L254.88 280.85 L255.40 280.80 L255.91 280.86 L256.42 281.02 L256.92 281.28 L257.43 281.59 L257.94 281.92 L258.45 282.25 L258.95 282.54 L259.46 282.78 L259.97 282.95 L260.48 283.07 L260.98 283.15 L261.49 283.19 L262.00 283.20 L262.50 283.18 L263.00 283.14 L263.50 283.07 L264.00 282.97 L264.50 282.84 L265.00 282.71 L265.50 282.56 L266.00 282.40 L266.50 282.24 L267.00 282.09 L267.50 281.96 L268.00 281.83 L268.50 281.73 L269.00 281.66 L269.50 281.62 L270.00 281.60 L270.50 281.62 L271.00 281.70 L271.50 281.81 L272.00 281.97 L272.50 282.17 L273.00 282.40 L273.50 282.64 L274.00 282.87 L274.50 283.09 L275.00 283.25 L275.50 283.36 L276.00 283.40 L276.52 283.41 L277.04 283.42 L277.56 283.45 L278.08 283.48 L278.60 283.52 L279.12 283.57 L279.64 283.62 L280.16 283.68 L280.68 283.73 L281.20 283.77 L281.72 283.82 L282.24 283.85 L282.76 283.88 L283.28 283.89 L283.80 283.90 L284.33 283.81 L284.87 283.55 L285.40 283.20 L285.93 282.85 L286.47 282.59 L287.00 282.50" stroke="#dc6262"/>
</g>
<line x1="26.80" y1="282.50" x2="286.80" y2="282.50" stroke="#444" stroke-width="0.95"/>
<rect x="26.80" y="211.00" width="260.00" height="142.40" fill="none" stroke="#383838" stroke-width="1.2"/>
<path d="M37.63 353.40V351.60M37.63 211.00V212.80M48.47 353.40V351.60M48.47 211.00V212.80M59.30 353.40V351.60M59.30 211.00V212.80M70.13 353.40V349.90M70.13 211.00V214.50M80.97 353.40V351.60M80.97 211.00V212.80M91.80 353.40V351.60M91.80 211.00V212.80M102.63 353.40V351.60M102.63 211.00V212.80M113.47 353.40V351.60M113.47 211.00V212.80M124.30 353.40V349.90M124.30 211.00V214.50M135.13 353.40V351.60M135.13 211.00V212.80M145.97 353.40V351.60M145.97 211.00V212.80M156.80 353.40V351.60M156.80 211.00V212.80M167.63 353.40V351.60M167.63 211.00V212.80M178.47 353.40V349.90M178.47 211.00V214.50M189.30 353.40V351.60M189.30 211.00V212.80M200.13 353.40V351.60M200.13 211.00V212.80M210.97 353.40V351.60M210.97 211.00V212.80M221.80 353.40V351.60M221.80 211.00V212.80M232.63 353.40V349.90M232.63 211.00V214.50M243.47 353.40V351.60M243.47 211.00V212.80M254.30 353.40V351.60M254.30 211.00V212.80M265.13 353.40V351.60M265.13 211.00V212.80M275.97 353.40V351.60M275.97 211.00V212.80M26.80 335.60H28.60M286.80 335.60H285.00M26.80 317.80H30.30M286.80 317.80H283.30M26.80 300.00H28.60M286.80 300.00H285.00M26.80 282.20H30.30M286.80 282.20H283.30M26.80 264.40H28.60M286.80 264.40H285.00M26.80 246.60H30.30M286.80 246.60H283.30M26.80 228.80H28.60M286.80 228.80H285.00" stroke="#383838" stroke-width="1.1" fill="none"/>
<text transform="translate(63.40 363.70) scale(0.9332 1)" font-size="8.90">100</text>
<text transform="translate(117.57 363.70) scale(0.9332 1)" font-size="8.90">150</text>
<text transform="translate(171.96 363.70) scale(0.9179 1)" font-size="8.90">200</text>
<text transform="translate(226.12 363.70) scale(0.9179 1)" font-size="8.90">250</text>
<text transform="translate(280.39 363.70) scale(0.9108 1)" font-size="8.90">300</text>
<g transform="translate(21.80 353.60) rotate(-90)"><text transform="translate(-8.73 0.00) scale(0.9840 1)" font-size="8.90">−0.4</text></g>
<g transform="translate(21.80 318.00) rotate(-90)"><text transform="translate(-8.74 0.00) scale(0.9950 1)" font-size="8.90">−0.2</text></g>
<g transform="translate(21.80 282.40) rotate(-90)"><text transform="translate(-2.73 0.00) scale(1.1047 1)" font-size="8.90">0</text></g>
<g transform="translate(21.80 246.80) rotate(-90)"><text transform="translate(-6.04 0.00) scale(0.9847 1)" font-size="8.90">0.2</text></g>
<g transform="translate(21.80 211.20) rotate(-90)"><text transform="translate(-6.04 0.00) scale(0.9691 1)" font-size="8.90">0.4</text></g>
<text transform="translate(131.27 373.90) scale(1.0437 1)" font-size="11.60">y</text>
<text transform="translate(144.47 373.90) scale(1.1500 1)" font-size="11.60" letter-spacing="0.295">(pixel)</text>
<g transform="translate(8.80 282.20) rotate(-90)"><text transform="translate(-45.93 0.00) scale(1.0500 1)" font-size="11.40" letter-spacing="1.008">scattered</text><text transform="translate(18.32 0.00) scale(1.0489 1)" font-size="11.40">wave</text></g>
<text transform="translate(82.64 203.70) scale(1.1500 1)" font-size="12.00" letter-spacing="1.139">(c)</text>
<text transform="translate(107.03 203.70) scale(1.0000 1)" font-size="12.00">p3</text>
<path d="M123.50 200.20H131.10 M128.40 197.80L131.10 200.20L128.40 202.60" stroke="#111" stroke-width="1.1" fill="none" stroke-linejoin="miter"/>
<text transform="translate(132.31 203.70) scale(1.1500 1)" font-size="12.00" letter-spacing="0.281">p2,</text>
<path d="M165.30 199.30Q166.10 198.20 167.20 198.20L171.20 198.20M168.70 198.30Q167.90 200.90 167.50 203.10" stroke="#1a1a1a" stroke-width="1.25" fill="none" stroke-linecap="round"/>
<path d="M173.00 199.20H180.80M173.00 201.40H180.80" stroke="#1a1a1a" stroke-width="0.95" fill="none"/>
<text transform="translate(182.36 203.70) scale(1.1367 1)" font-size="12.00">90</text>
<text transform="translate(203.38 203.70) scale(1.1500 1)" font-size="12.00" letter-spacing="0.147">min.</text>
<line x1="178.00" y1="223.50" x2="189.80" y2="223.50" stroke="#4040b0" stroke-width="1.3"/>
<text transform="translate(192.27 225.70) scale(1.0651 1)" font-size="10.30">incident</text>
<line x1="178.00" y1="232.55" x2="189.80" y2="232.55" stroke="#48976a" stroke-width="1.3"/>
<text transform="translate(192.69 234.75) scale(1.0865 1)" font-size="10.30">scattered</text>
<text transform="translate(243.27 234.75) scale(1.1395 1)" font-size="10.30">(11084)</text>
<line x1="178.00" y1="241.60" x2="189.80" y2="241.60" stroke="#bf4a4a" stroke-width="1.3"/>
<text transform="translate(192.69 243.80) scale(1.0865 1)" font-size="10.30">scattered</text>
<text transform="translate(243.27 243.80) scale(1.1395 1)" font-size="10.30">(11092)</text>
<clipPath id="clipd"><rect x="332.70" y="210.00" width="260.00" height="144.40"/></clipPath>
<g clip-path="url(#clipd)" fill="none" stroke-width="1" stroke-linejoin="round">
<path d="M332.70 282.40 L333.21 282.40 L333.72 282.40 L334.23 282.41 L334.74 282.41 L335.24 282.42 L335.75 282.43 L336.26 282.44 L336.77 282.45 L337.28 282.47 L337.79 282.48 L338.30 282.49 L338.81 282.51 L339.31 282.53 L339.82 282.55 L340.33 282.56 L340.84 282.58 L341.35 282.60 L341.86 282.62 L342.37 282.64 L342.88 282.65 L343.39 282.67 L343.89 282.69 L344.40 282.71 L344.91 282.72 L345.42 282.73 L345.93 282.75 L346.44 282.76 L346.95 282.77 L347.46 282.78 L347.96 282.79 L348.47 282.79 L348.98 282.80 L349.49 282.80 L350.00 282.80 L350.50 282.80 L351.00 282.78 L351.50 282.76 L352.00 282.72 L352.50 282.68 L353.00 282.64 L353.50 282.58 L354.00 282.52 L354.50 282.46 L355.00 282.40 L355.50 282.34 L356.00 282.28 L356.50 282.22 L357.00 282.16 L357.50 282.12 L358.00 282.08 L358.50 282.04 L359.00 282.02 L359.50 282.00 L360.00 282.00 L360.50 282.00 L361.00 282.00 L361.50 281.99 L362.00 281.98 L362.50 281.97 L363.00 281.96 L363.50 281.95 L364.00 281.93 L364.50 281.92 L365.00 281.90 L365.50 281.88 L366.00 281.87 L366.50 281.85 L367.00 281.84 L367.50 281.83 L368.00 281.82 L368.50 281.81 L369.00 281.80 L369.50 281.80 L370.00 281.80 L370.50 281.81 L371.00 281.86 L371.50 281.92 L372.00 282.01 L372.50 282.10 L373.00 282.21 L373.50 282.31 L374.00 282.40 L374.50 282.48 L375.00 282.55 L375.50 282.60 L376.00 282.64 L376.50 282.67 L377.00 282.69 L377.50 282.70 L378.00 282.70 L378.50 282.69 L379.00 282.68 L379.50 282.66 L380.00 282.62 L380.50 282.59 L381.00 282.55 L381.50 282.51 L382.00 282.47 L382.50 282.44 L383.00 282.42 L383.50 282.41 L384.00 282.40 L384.55 282.51 L385.10 282.84 L385.65 283.33 L386.20 283.90 L386.75 284.47 L387.30 284.96 L387.85 285.29 L388.40 285.40 L388.93 285.30 L389.47 285.00 L390.00 284.53 L390.53 283.91 L391.07 283.19 L391.60 282.40 L392.13 281.61 L392.67 280.86 L393.20 280.22 L393.73 279.72 L394.27 279.41 L394.80 279.30 L395.30 279.37 L395.80 279.61 L396.30 280.01 L396.80 280.61 L397.30 281.42 L397.80 282.40 L398.30 283.51 L398.80 284.66 L399.30 285.74 L399.80 286.62 L400.30 287.20 L400.80 287.40 L401.31 287.33 L401.82 287.09 L402.32 286.62 L402.83 285.87 L403.34 284.76 L403.85 283.27 L404.35 281.45 L404.86 279.40 L405.37 277.29 L405.88 275.32 L406.38 273.72 L406.89 272.67 L407.40 272.30 L407.92 272.61 L408.45 273.50 L408.97 274.92 L409.49 276.77 L410.02 278.92 L410.54 281.23 L411.06 283.56 L411.58 285.77 L412.11 287.74 L412.63 289.37 L413.15 290.59 L413.68 291.35 L414.20 291.60 L414.71 291.45 L415.21 291.00 L415.72 290.18 L416.23 288.95 L416.74 287.24 L417.24 285.04 L417.75 282.40 L418.26 279.41 L418.76 276.26 L419.27 273.17 L419.78 270.40 L420.29 268.20 L420.79 266.79 L421.30 266.30 L421.81 266.42 L422.31 266.78 L422.82 267.45 L423.32 268.52 L423.83 270.06 L424.33 272.19 L424.84 274.95 L425.34 278.36 L425.85 282.40 L426.36 286.96 L426.86 291.88 L427.37 296.94 L427.87 301.88 L428.38 306.44 L428.88 310.32 L429.39 313.30 L429.89 315.16 L430.40 315.80 L430.92 315.46 L431.43 314.44 L431.95 312.66 L432.47 310.05 L432.98 306.51 L433.50 301.97 L434.02 296.41 L434.53 289.85 L435.05 282.40 L435.57 274.26 L436.08 265.70 L436.60 257.07 L437.12 248.79 L437.63 241.26 L438.15 234.89 L438.67 230.05 L439.18 227.03 L439.70 226.00 L440.22 226.45 L440.73 227.78 L441.25 229.99 L441.77 233.06 L442.28 236.95 L442.80 241.63 L443.32 247.04 L443.83 253.12 L444.35 259.80 L444.87 266.98 L445.38 274.55 L445.90 282.40 L446.42 290.40 L446.93 298.40 L447.45 306.26 L447.97 313.82 L448.48 320.95 L449.00 327.47 L449.52 333.26 L450.03 338.19 L450.55 342.15 L451.07 345.04 L451.58 346.81 L452.10 347.40 L452.60 346.99 L453.10 345.75 L453.60 343.71 L454.10 340.90 L454.60 337.34 L455.10 333.09 L455.60 328.21 L456.10 322.75 L456.60 316.80 L457.10 310.42 L457.60 303.70 L458.10 296.73 L458.60 289.60 L459.10 282.40 L459.60 275.22 L460.10 268.14 L460.60 261.26 L461.10 254.66 L461.60 248.43 L462.10 242.63 L462.60 237.34 L463.10 232.63 L463.60 228.54 L464.10 225.12 L464.60 222.42 L465.10 220.47 L465.60 219.29 L466.10 218.90 L466.61 219.24 L467.13 220.28 L467.64 221.98 L468.15 224.33 L468.66 227.29 L469.18 230.83 L469.69 234.91 L470.20 239.45 L470.72 244.42 L471.23 249.75 L471.74 255.36 L472.25 261.20 L472.77 267.19 L473.28 273.27 L473.79 279.36 L474.31 285.42 L474.82 291.36 L475.33 297.14 L475.85 302.70 L476.36 307.99 L476.87 312.96 L477.38 317.57 L477.90 321.79 L478.41 325.58 L478.92 328.91 L479.44 331.78 L479.95 334.14 L480.46 336.00 L480.97 337.33 L481.49 338.13 L482.00 338.40 L482.51 338.18 L483.02 337.53 L483.52 336.45 L484.03 334.95 L484.54 333.05 L485.05 330.77 L485.56 328.13 L486.06 325.16 L486.57 321.89 L487.08 318.34 L487.59 314.57 L488.10 310.59 L488.61 306.45 L489.11 302.18 L489.62 297.82 L490.13 293.42 L490.64 288.99 L491.15 284.59 L491.65 280.23 L492.16 275.96 L492.67 271.80 L493.18 267.78 L493.69 263.93 L494.19 260.26 L494.70 256.80 L495.21 253.56 L495.72 250.56 L496.23 247.81 L496.74 245.33 L497.24 243.12 L497.75 241.20 L498.26 239.56 L498.77 238.21 L499.28 237.16 L499.78 236.40 L500.29 235.95 L500.80 235.80 L501.30 235.95 L501.81 236.38 L502.31 237.10 L502.82 238.10 L503.32 239.38 L503.83 240.91 L504.33 242.68 L504.84 244.69 L505.34 246.90 L505.85 249.32 L506.35 251.90 L506.86 254.64 L507.36 257.50 L507.87 260.47 L508.37 263.53 L508.88 266.65 L509.38 269.81 L509.89 272.98 L510.39 276.15 L510.90 279.30 L511.40 282.40 L511.90 285.44 L512.41 288.40 L512.91 291.27 L513.42 294.04 L513.92 296.68 L514.43 299.20 L514.93 301.57 L515.44 303.81 L515.94 305.89 L516.45 307.81 L516.95 309.57 L517.46 311.17 L517.96 312.60 L518.47 313.87 L518.97 314.97 L519.48 315.89 L519.98 316.65 L520.49 317.24 L520.99 317.66 L521.50 317.92 L522.00 318.00 L522.51 317.92 L523.01 317.68 L523.52 317.28 L524.02 316.73 L524.53 316.02 L525.04 315.17 L525.54 314.18 L526.05 313.06 L526.55 311.81 L527.06 310.44 L527.56 308.97 L528.07 307.41 L528.58 305.75 L529.08 304.03 L529.59 302.24 L530.09 300.40 L530.60 298.51 L531.11 296.60 L531.61 294.67 L532.12 292.73 L532.62 290.80 L533.13 288.88 L533.64 286.98 L534.14 285.12 L534.65 283.29 L535.15 281.52 L535.66 279.80 L536.16 278.13 L536.67 276.54 L537.18 275.01 L537.68 273.56 L538.19 272.18 L538.69 270.88 L539.20 269.66 L539.71 268.52 L540.21 267.47 L540.72 266.49 L541.22 265.59 L541.73 264.77 L542.24 264.02 L542.74 263.35 L543.25 262.75 L543.75 262.22 L544.26 261.76 L544.76 261.37 L545.27 261.04 L545.78 260.77 L546.28 260.56 L546.79 260.42 L547.29 260.33 L547.80 260.30 L548.30 260.33 L548.80 260.43 L549.30 260.59 L549.81 260.81 L550.31 261.09 L550.81 261.44 L551.31 261.84 L551.81 262.30 L552.31 262.81 L552.82 263.38 L553.32 264.00 L553.82 264.66 L554.32 265.37 L554.82 266.12 L555.32 266.91 L555.83 267.74 L556.33 268.59 L556.83 269.48 L557.33 270.39 L557.83 271.32 L558.33 272.26 L558.83 273.22 L559.34 274.19 L559.84 275.17 L560.34 276.15 L560.84 277.14 L561.34 278.11 L561.84 279.09 L562.35 280.05 L562.85 281.00 L563.35 281.94 L563.85 282.86 L564.35 283.76 L564.85 284.64 L565.36 285.49 L565.86 286.32 L566.36 287.13 L566.86 287.91 L567.36 288.65 L567.86 289.37 L568.37 290.06 L568.87 290.71 L569.37 291.34 L569.87 291.93 L570.37 292.48 L570.87 293.01 L571.37 293.50 L571.88 293.96 L572.38 294.39 L572.88 294.79 L573.38 295.15 L573.88 295.49 L574.38 295.79 L574.89 296.06 L575.39 296.30 L575.89 296.51 L576.39 296.70 L576.89 296.85 L577.39 296.98 L577.90 297.08 L578.40 297.14 L578.90 297.19 L579.40 297.20 L579.90 297.19 L580.40 297.15 L580.90 297.09 L581.40 297.01 L581.91 296.90 L582.41 296.77 L582.91 296.62 L583.41 296.44 L583.91 296.24 L584.41 296.02 L584.91 295.78 L585.41 295.51 L585.92 295.23 L586.42 294.92 L586.92 294.60 L587.42 294.26 L587.92 293.90 L588.42 293.52 L588.92 293.13 L589.42 292.72 L589.93 292.30 L590.43 291.86 L590.93 291.41 L591.43 290.95 L591.93 290.48 L592.43 289.99 L592.93 289.50 L593.43 289.00 L593.94 288.49 L594.44 287.97 L594.94 287.45 L595.44 286.93 L595.94 286.40 L596.44 285.87 L596.94 285.33 L597.44 284.80 L597.95 284.26 L598.45 283.73 L598.95 283.19 L599.45 282.66 L599.95 282.14 L600.45 281.61 L600.95 281.09 L601.45 280.58 L601.96 280.07 L602.46 279.57 L602.96 279.08 L603.46 278.60 L603.96 278.12 L604.46 277.66 L604.96 277.20 L605.46 276.76 L605.97 276.32 L606.47 275.90 L606.97 275.49 L607.47 275.09 L607.97 274.71 L608.47 274.33 L608.97 273.98 L609.47 273.63 L609.98 273.30 L610.48 272.99 L610.98 272.69 L611.48 272.40 L611.98 272.13 L612.48 271.88 L612.98 271.64 L613.48 271.41 L613.99 271.20 L614.49 271.01 L614.99 270.84 L615.49 270.68 L615.99 270.54 L616.49 270.41 L616.99 270.30 L617.49 270.21 L618.00 270.13 L618.50 270.08 L619.00 270.03 L619.50 270.01 L620.00 270.00" stroke="#6a6ae2"/>
<path d="M332.70 281.00 L333.21 280.95 L333.72 280.82 L334.23 280.60 L334.73 280.32 L335.24 280.00 L335.75 279.65 L336.26 279.30 L336.77 278.97 L337.27 278.70 L337.78 278.48 L338.29 278.35 L338.80 278.30 L339.31 278.34 L339.82 278.46 L340.34 278.66 L340.85 278.93 L341.36 279.26 L341.88 279.65 L342.39 280.07 L342.90 280.52 L343.41 281.00 L343.93 281.47 L344.44 281.94 L344.95 282.40 L345.46 282.83 L345.98 283.23 L346.49 283.60 L347.00 283.93 L347.51 284.21 L348.03 284.45 L348.54 284.66 L349.05 284.82 L349.56 284.94 L350.08 285.03 L350.59 285.08 L351.10 285.10 L351.61 285.08 L352.12 285.01 L352.64 284.90 L353.15 284.74 L353.66 284.55 L354.17 284.33 L354.68 284.07 L355.20 283.80 L355.71 283.50 L356.22 283.19 L356.73 282.88 L357.24 282.56 L357.76 282.24 L358.27 281.94 L358.78 281.65 L359.29 281.37 L359.80 281.12 L360.32 280.89 L360.83 280.68 L361.34 280.51 L361.85 280.36 L362.36 280.25 L362.88 280.17 L363.39 280.12 L363.90 280.10 L364.40 280.13 L364.91 280.22 L365.41 280.37 L365.92 280.57 L366.42 280.80 L366.93 281.06 L367.43 281.34 L367.94 281.63 L368.44 281.90 L368.95 282.16 L369.45 282.40 L369.95 282.61 L370.46 282.78 L370.96 282.91 L371.47 283.02 L371.97 283.09 L372.48 283.14 L372.98 283.17 L373.49 283.19 L373.99 283.20 L374.50 283.20 L375.00 283.20 L375.50 283.19 L376.00 283.14 L376.50 283.07 L377.00 282.98 L377.50 282.86 L378.00 282.72 L378.50 282.56 L379.00 282.40 L379.50 282.23 L380.00 282.07 L380.50 281.91 L381.00 281.77 L381.50 281.66 L382.00 281.57 L382.50 281.52 L383.00 281.50 L383.50 281.52 L384.00 281.58 L384.50 281.67 L385.00 281.79 L385.50 281.94 L386.00 282.09 L386.50 282.25 L387.00 282.40 L387.50 282.54 L388.00 282.67 L388.50 282.77 L389.00 282.86 L389.50 282.92 L390.00 282.96 L390.50 282.99 L391.00 283.00 L391.51 283.01 L392.02 283.02 L392.54 283.05 L393.05 283.09 L393.56 283.14 L394.07 283.19 L394.58 283.25 L395.09 283.32 L395.61 283.38 L396.12 283.45 L396.63 283.51 L397.14 283.56 L397.65 283.61 L398.16 283.65 L398.68 283.68 L399.19 283.69 L399.70 283.70 L400.23 283.64 L400.77 283.45 L401.30 283.12 L401.83 282.67 L402.37 282.11 L402.90 281.52 L403.43 281.00 L403.97 280.63 L404.50 280.50 L405.02 280.46 L405.55 280.39 L406.07 280.41 L406.60 280.67 L407.12 281.31 L407.65 282.40 L408.18 283.90 L408.70 285.67 L409.23 287.49 L409.75 289.06 L410.28 290.12 L410.80 290.50 L411.31 290.36 L411.82 289.92 L412.32 289.11 L412.83 287.85 L413.34 286.06 L413.85 283.74 L414.35 280.96 L414.86 277.87 L415.37 274.73 L415.88 271.82 L416.38 269.47 L416.89 267.93 L417.40 267.40 L417.92 267.69 L418.44 268.58 L418.96 270.09 L419.49 272.25 L420.01 275.06 L420.53 278.47 L421.05 282.40 L421.57 286.66 L422.09 291.02 L422.61 295.19 L423.14 298.86 L423.66 301.74 L424.18 303.57 L424.70 304.20 L425.23 303.77 L425.75 302.48 L426.28 300.35 L426.81 297.44 L427.33 293.81 L427.86 289.57 L428.39 284.87 L428.91 279.88 L429.44 274.83 L429.97 269.96 L430.49 265.52 L431.02 261.76 L431.55 258.90 L432.07 257.11 L432.60 256.50 L433.11 256.91 L433.62 258.13 L434.13 260.10 L434.64 262.77 L435.16 266.02 L435.67 269.74 L436.18 273.80 L436.69 278.07 L437.20 282.40 L437.71 286.66 L438.22 290.73 L438.73 294.49 L439.24 297.83 L439.76 300.68 L440.27 302.97 L440.78 304.64 L441.29 305.66 L441.80 306.00 L442.30 305.79 L442.80 305.17 L443.30 304.15 L443.80 302.76 L444.30 301.04 L444.80 299.02 L445.30 296.76 L445.80 294.31 L446.30 291.73 L446.80 289.06 L447.30 286.37 L447.80 283.71 L448.30 281.12 L448.80 278.63 L449.30 276.30 L449.80 274.14 L450.30 272.18 L450.80 270.44 L451.30 268.91 L451.80 267.62 L452.30 266.57 L452.80 265.75 L453.30 265.17 L453.80 264.82 L454.30 264.70 L454.81 264.94 L455.32 265.66 L455.83 266.81 L456.34 268.35 L456.85 270.21 L457.36 272.30 L457.87 274.55 L458.38 276.86 L458.89 279.15 L459.40 281.35 L459.90 283.40 L460.41 285.25 L460.92 286.87 L461.43 288.25 L461.94 289.39 L462.45 290.29 L462.96 290.99 L463.47 291.50 L463.98 291.84 L464.49 292.04 L465.00 292.10 L465.50 292.04 L466.00 291.85 L466.50 291.55 L467.00 291.13 L467.50 290.60 L468.00 289.98 L468.50 289.28 L469.00 288.51 L469.50 287.69 L470.00 286.82 L470.50 285.94 L471.00 285.03 L471.50 284.14 L472.00 283.25 L472.50 282.40 L473.00 281.58 L473.50 280.81 L474.00 280.09 L474.50 279.43 L475.00 278.82 L475.50 278.29 L476.00 277.81 L476.50 277.39 L477.00 277.04 L477.50 276.75 L478.00 276.51 L478.50 276.33 L479.00 276.20 L479.50 276.13 L480.00 276.10 L480.51 276.14 L481.02 276.26 L481.53 276.45 L482.04 276.72 L482.55 277.05 L483.06 277.44 L483.57 277.89 L484.08 278.37 L484.59 278.89 L485.10 279.43 L485.61 279.98 L486.12 280.54 L486.63 281.09 L487.14 281.63 L487.65 282.15 L488.15 282.64 L488.66 283.10 L489.17 283.52 L489.68 283.91 L490.19 284.25 L490.70 284.56 L491.21 284.83 L491.72 285.05 L492.23 285.25 L492.74 285.40 L493.25 285.53 L493.76 285.63 L494.27 285.71 L494.78 285.76 L495.29 285.79 L495.80 285.80 L496.31 285.74 L496.82 285.58 L497.33 285.31 L497.84 284.96 L498.35 284.55 L498.86 284.10 L499.37 283.63 L499.88 283.18 L500.39 282.77 L500.90 282.40 L501.41 282.09 L501.92 281.85 L502.43 281.68 L502.94 281.57 L503.45 281.50 L503.96 281.48 L504.47 281.48 L504.98 281.49 L505.49 281.50 L506.00 281.50 L506.51 281.49 L507.03 281.47 L507.54 281.43 L508.06 281.37 L508.57 281.30 L509.09 281.22 L509.60 281.12 L510.11 281.02 L510.63 280.92 L511.14 280.81 L511.66 280.69 L512.17 280.58 L512.69 280.48 L513.20 280.38 L513.71 280.28 L514.23 280.20 L514.74 280.13 L515.26 280.07 L515.77 280.03 L516.29 280.01 L516.80 280.00 L517.31 280.05 L517.82 280.18 L518.33 280.40 L518.84 280.68 L519.36 281.01 L519.87 281.36 L520.38 281.73 L520.89 282.08 L521.40 282.40 L521.91 282.68 L522.42 282.92 L522.93 283.11 L523.44 283.26 L523.96 283.36 L524.47 283.43 L524.98 283.47 L525.49 283.49 L526.00 283.50 L526.51 283.50 L527.02 283.50 L527.53 283.49 L528.04 283.47 L528.55 283.42 L529.06 283.33 L529.57 283.18 L530.08 282.99 L530.59 282.72 L531.10 282.40 L531.61 282.02 L532.12 281.59 L532.63 281.14 L533.14 280.68 L533.65 280.23 L534.16 279.83 L534.67 279.48 L535.18 279.22 L535.69 279.06 L536.20 279.00 L536.71 279.02 L537.22 279.08 L537.73 279.18 L538.24 279.32 L538.75 279.49 L539.26 279.69 L539.77 279.92 L540.28 280.18 L540.79 280.45 L541.30 280.74 L541.81 281.04 L542.32 281.34 L542.83 281.65 L543.34 281.96 L543.85 282.25 L544.35 282.54 L544.86 282.82 L545.37 283.08 L545.88 283.32 L546.39 283.55 L546.90 283.75 L547.41 283.94 L547.92 284.10 L548.43 284.25 L548.94 284.37 L549.45 284.47 L549.96 284.55 L550.47 284.62 L550.98 284.66 L551.49 284.69 L552.00 284.70 L552.50 284.66 L553.00 284.55 L553.50 284.38 L554.00 284.15 L554.50 283.88 L555.00 283.58 L555.50 283.27 L556.00 282.96 L556.50 282.67 L557.00 282.40 L557.50 282.17 L558.00 281.97 L558.50 281.82 L559.00 281.70 L559.50 281.62 L560.00 281.56 L560.50 281.53 L561.00 281.51 L561.50 281.50 L562.00 281.50 L562.50 281.52 L563.00 281.58 L563.50 281.67 L564.00 281.79 L564.50 281.94 L565.00 282.09 L565.50 282.25 L566.00 282.40 L566.50 282.54 L567.00 282.67 L567.50 282.77 L568.00 282.86 L568.50 282.92 L569.00 282.96 L569.50 282.99 L570.00 283.00 L570.50 283.00 L571.00 282.98 L571.50 282.96 L572.00 282.92 L572.50 282.88 L573.00 282.81 L573.50 282.73 L574.00 282.64 L574.50 282.53 L575.00 282.40 L575.50 282.26 L576.00 282.11 L576.50 281.96 L577.00 281.81 L577.50 281.67 L578.00 281.55 L578.50 281.44 L579.00 281.37 L579.50 281.32 L580.00 281.30 L580.50 281.30 L581.00 281.30 L581.50 281.31 L582.00 281.31 L582.50 281.32 L583.00 281.33 L583.50 281.34 L584.00 281.35 L584.50 281.36 L585.00 281.37 L585.50 281.38 L586.00 281.39 L586.50 281.41 L587.00 281.42 L587.50 281.43 L588.00 281.44 L588.50 281.45 L589.00 281.46 L589.50 281.47 L590.00 281.48 L590.50 281.49 L591.00 281.49 L591.50 281.50 L592.00 281.50 L592.50 281.50" stroke="#58b280"/>
<path d="M332.70 280.00 L333.22 280.08 L333.74 280.30 L334.26 280.63 L334.79 281.06 L335.31 281.52 L335.83 281.98 L336.35 282.40 L336.87 282.76 L337.39 283.04 L337.91 283.24 L338.44 283.37 L338.96 283.45 L339.48 283.49 L340.00 283.50 L340.50 283.49 L341.00 283.46 L341.50 283.42 L342.00 283.35 L342.50 283.28 L343.00 283.19 L343.50 283.10 L344.00 283.00 L344.50 282.90 L345.00 282.81 L345.50 282.72 L346.00 282.65 L346.50 282.58 L347.00 282.54 L347.50 282.51 L348.00 282.50 L348.50 282.51 L349.00 282.56 L349.50 282.63 L350.00 282.72 L350.50 282.83 L351.00 282.96 L351.50 283.10 L352.00 283.25 L352.50 283.40 L353.00 283.54 L353.50 283.67 L354.00 283.78 L354.50 283.87 L355.00 283.94 L355.50 283.99 L356.00 284.00 L356.50 283.98 L357.00 283.91 L357.50 283.81 L358.00 283.66 L358.50 283.49 L359.00 283.29 L359.50 283.08 L360.00 282.85 L360.50 282.62 L361.00 282.40 L361.50 282.19 L362.00 281.99 L362.50 281.81 L363.00 281.65 L363.50 281.51 L364.00 281.40 L364.50 281.31 L365.00 281.25 L365.50 281.21 L366.00 281.20 L366.50 281.22 L367.00 281.28 L367.50 281.39 L368.00 281.55 L368.50 281.77 L369.00 282.06 L369.50 282.40 L370.00 282.79 L370.50 283.20 L371.00 283.60 L371.50 283.97 L372.00 284.25 L372.50 284.44 L373.00 284.50 L373.50 284.45 L374.00 284.30 L374.50 284.06 L375.00 283.76 L375.50 283.42 L376.00 283.06 L376.50 282.72 L377.00 282.40 L377.50 282.13 L378.00 281.91 L378.50 281.75 L379.00 281.64 L379.50 281.57 L380.00 281.53 L380.50 281.51 L381.00 281.50 L381.50 281.51 L382.00 281.55 L382.50 281.61 L383.00 281.69 L383.50 281.80 L384.00 281.92 L384.50 282.07 L385.00 282.23 L385.50 282.40 L386.00 282.58 L386.50 282.75 L387.00 282.92 L387.50 283.08 L388.00 283.22 L388.50 283.34 L389.00 283.43 L389.50 283.48 L390.00 283.50 L390.50 283.46 L391.00 283.34 L391.50 283.16 L392.00 282.93 L392.50 282.67 L393.00 282.40 L393.50 282.15 L394.00 281.93 L394.50 281.74 L395.00 281.61 L395.50 281.53 L396.00 281.50 L396.53 281.47 L397.06 281.37 L397.59 281.22 L398.12 281.02 L398.65 280.79 L399.18 280.53 L399.72 280.27 L400.25 280.01 L400.78 279.78 L401.31 279.58 L401.84 279.43 L402.37 279.33 L402.90 279.30 L403.40 279.35 L403.90 279.50 L404.40 279.74 L404.90 280.06 L405.40 280.44 L405.90 280.87 L406.40 281.31 L406.90 281.76 L407.40 282.19 L407.90 282.60 L408.40 282.96 L408.90 283.28 L409.40 283.55 L409.90 283.76 L410.40 283.93 L410.90 284.05 L411.40 284.14 L411.90 284.18 L412.40 284.20 L412.92 284.22 L413.45 284.26 L413.97 284.25 L414.49 284.07 L415.02 283.64 L415.54 282.90 L416.06 281.83 L416.58 280.49 L417.11 279.02 L417.63 277.58 L418.15 276.38 L418.68 275.58 L419.20 275.30 L419.71 275.41 L420.22 275.77 L420.72 276.45 L421.23 277.53 L421.74 279.10 L422.25 281.18 L422.75 283.72 L423.26 286.55 L423.77 289.46 L424.28 292.16 L424.78 294.36 L425.29 295.80 L425.80 296.30 L426.31 296.08 L426.82 295.43 L427.34 294.33 L427.85 292.78 L428.36 290.78 L428.88 288.35 L429.39 285.53 L429.90 282.40 L430.41 279.07 L430.93 275.68 L431.44 272.39 L431.95 269.37 L432.46 266.81 L432.98 264.85 L433.49 263.62 L434.00 263.20 L434.51 263.50 L435.01 264.39 L435.52 265.86 L436.02 267.88 L436.53 270.42 L437.04 273.42 L437.54 276.81 L438.05 280.49 L438.55 284.34 L439.06 288.25 L439.56 292.05 L440.07 295.61 L440.58 298.77 L441.08 301.40 L441.59 303.37 L442.09 304.59 L442.60 305.00 L443.11 304.76 L443.63 304.06 L444.14 302.90 L444.65 301.31 L445.17 299.34 L445.68 297.03 L446.20 294.43 L446.71 291.61 L447.22 288.62 L447.74 285.52 L448.25 282.40 L448.76 279.31 L449.28 276.30 L449.79 273.45 L450.30 270.81 L450.82 268.41 L451.33 266.32 L451.85 264.55 L452.36 263.15 L452.87 262.13 L453.39 261.51 L453.90 261.30 L454.40 261.50 L454.91 262.08 L455.41 263.03 L455.92 264.33 L456.42 265.92 L456.92 267.78 L457.43 269.84 L457.93 272.05 L458.44 274.36 L458.94 276.70 L459.44 279.03 L459.95 281.30 L460.45 283.47 L460.96 285.50 L461.46 287.36 L461.96 289.05 L462.47 290.54 L462.97 291.83 L463.48 292.93 L463.98 293.84 L464.48 294.56 L464.99 295.11 L465.49 295.50 L466.00 295.72 L466.50 295.80 L467.00 295.69 L467.50 295.37 L468.00 294.84 L468.50 294.13 L469.00 293.24 L469.50 292.20 L470.00 291.04 L470.50 289.78 L471.00 288.45 L471.50 287.09 L472.00 285.71 L472.50 284.35 L473.00 283.04 L473.50 281.78 L474.00 280.60 L474.50 279.52 L475.00 278.53 L475.50 277.65 L476.00 276.88 L476.50 276.21 L477.00 275.65 L477.50 275.19 L478.00 274.83 L478.50 274.55 L479.00 274.35 L479.50 274.24 L480.00 274.20 L480.51 274.25 L481.02 274.40 L481.53 274.64 L482.04 274.98 L482.55 275.39 L483.06 275.88 L483.57 276.44 L484.07 277.05 L484.58 277.70 L485.09 278.38 L485.60 279.07 L486.11 279.77 L486.62 280.46 L487.13 281.14 L487.64 281.79 L488.15 282.40 L488.66 282.97 L489.17 283.50 L489.68 283.98 L490.19 284.40 L490.70 284.77 L491.21 285.10 L491.72 285.37 L492.23 285.60 L492.73 285.79 L493.24 285.94 L493.75 286.06 L494.26 286.15 L494.77 286.22 L495.28 286.27 L495.79 286.29 L496.30 286.30 L496.81 286.29 L497.33 286.25 L497.84 286.19 L498.35 286.10 L498.87 285.98 L499.38 285.85 L499.89 285.69 L500.41 285.50 L500.92 285.30 L501.43 285.07 L501.94 284.83 L502.46 284.57 L502.97 284.29 L503.48 284.00 L504.00 283.70 L504.51 283.39 L505.02 283.06 L505.54 282.73 L506.05 282.40 L506.56 282.06 L507.08 281.73 L507.59 281.40 L508.10 281.07 L508.62 280.75 L509.13 280.44 L509.64 280.14 L510.16 279.86 L510.67 279.59 L511.18 279.34 L511.69 279.11 L512.21 278.90 L512.72 278.72 L513.23 278.57 L513.75 278.44 L514.26 278.33 L514.77 278.26 L515.29 278.21 L515.80 278.20 L516.31 278.26 L516.82 278.42 L517.33 278.69 L517.84 279.04 L518.35 279.47 L518.85 279.94 L519.36 280.45 L519.87 280.97 L520.38 281.48 L520.89 281.96 L521.40 282.40 L521.91 282.79 L522.42 283.11 L522.93 283.38 L523.44 283.59 L523.95 283.74 L524.45 283.85 L524.96 283.92 L525.47 283.96 L525.98 283.99 L526.49 284.00 L527.00 284.00 L527.50 283.99 L528.00 283.97 L528.50 283.93 L529.00 283.88 L529.50 283.82 L530.00 283.75 L530.50 283.67 L531.00 283.59 L531.50 283.50 L532.00 283.41 L532.50 283.33 L533.00 283.25 L533.50 283.18 L534.00 283.12 L534.50 283.07 L535.00 283.03 L535.50 283.01 L536.00 283.00 L536.51 283.00 L537.03 283.00 L537.54 283.00 L538.05 282.99 L538.57 282.98 L539.08 282.95 L539.59 282.90 L540.10 282.84 L540.62 282.75 L541.13 282.63 L541.64 282.48 L542.16 282.31 L542.67 282.12 L543.18 281.91 L543.70 281.69 L544.21 281.46 L544.72 281.24 L545.23 281.04 L545.75 280.86 L546.26 280.71 L546.77 280.59 L547.29 280.52 L547.80 280.50 L548.30 280.51 L548.81 280.55 L549.31 280.62 L549.82 280.71 L550.32 280.83 L550.82 280.98 L551.33 281.14 L551.83 281.33 L552.34 281.54 L552.84 281.77 L553.34 282.01 L553.85 282.27 L554.35 282.53 L554.86 282.80 L555.36 283.07 L555.86 283.33 L556.37 283.58 L556.87 283.82 L557.38 284.04 L557.88 284.23 L558.38 284.39 L558.89 284.53 L559.39 284.62 L559.90 284.68 L560.40 284.70 L560.91 284.68 L561.41 284.64 L561.92 284.57 L562.42 284.47 L562.93 284.35 L563.43 284.20 L563.94 284.04 L564.44 283.87 L564.95 283.69 L565.45 283.51 L565.96 283.33 L566.46 283.16 L566.97 283.00 L567.47 282.85 L567.98 282.73 L568.48 282.63 L568.99 282.56 L569.49 282.52 L570.00 282.50 L570.50 282.51 L571.00 282.53 L571.50 282.56 L572.00 282.60 L572.50 282.63 L573.00 282.66 L573.50 282.68 L574.00 282.67 L574.50 282.63 L575.00 282.57 L575.50 282.46 L576.00 282.33 L576.50 282.16 L577.00 281.96 L577.50 281.75 L578.00 281.52 L578.50 281.30 L579.00 281.08 L579.50 280.89 L580.00 280.73 L580.50 280.60 L581.00 280.53 L581.50 280.50 L582.00 280.53 L582.50 280.60 L583.00 280.73 L583.50 280.89 L584.00 281.08 L584.50 281.30 L585.00 281.53 L585.50 281.77 L586.00 282.00 L586.50 282.21 L587.00 282.40 L587.50 282.56 L588.00 282.70 L588.50 282.81 L589.00 282.89 L589.50 282.94 L590.00 282.97 L590.50 282.99 L591.00 283.00 L591.50 283.00 L592.00 283.00 L592.50 283.00" stroke="#dc6262"/>
</g>
<line x1="332.70" y1="282.50" x2="592.70" y2="282.50" stroke="#444" stroke-width="0.95"/>
<rect x="332.70" y="211.00" width="260.00" height="142.40" fill="none" stroke="#383838" stroke-width="1.2"/>
<path d="M343.53 353.40V351.60M343.53 211.00V212.80M354.37 353.40V351.60M354.37 211.00V212.80M365.20 353.40V351.60M365.20 211.00V212.80M376.03 353.40V349.90M376.03 211.00V214.50M386.87 353.40V351.60M386.87 211.00V212.80M397.70 353.40V351.60M397.70 211.00V212.80M408.53 353.40V351.60M408.53 211.00V212.80M419.37 353.40V351.60M419.37 211.00V212.80M430.20 353.40V349.90M430.20 211.00V214.50M441.03 353.40V351.60M441.03 211.00V212.80M451.87 353.40V351.60M451.87 211.00V212.80M462.70 353.40V351.60M462.70 211.00V212.80M473.53 353.40V351.60M473.53 211.00V212.80M484.37 353.40V349.90M484.37 211.00V214.50M495.20 353.40V351.60M495.20 211.00V212.80M506.03 353.40V351.60M506.03 211.00V212.80M516.87 353.40V351.60M516.87 211.00V212.80M527.70 353.40V351.60M527.70 211.00V212.80M538.53 353.40V349.90M538.53 211.00V214.50M549.37 353.40V351.60M549.37 211.00V212.80M560.20 353.40V351.60M560.20 211.00V212.80M571.03 353.40V351.60M571.03 211.00V212.80M581.87 353.40V351.60M581.87 211.00V212.80M332.70 335.60H334.50M592.70 335.60H590.90M332.70 317.80H336.20M592.70 317.80H589.20M332.70 300.00H334.50M592.70 300.00H590.90M332.70 282.20H336.20M592.70 282.20H589.20M332.70 264.40H334.50M592.70 264.40H590.90M332.70 246.60H336.20M592.70 246.60H589.20M332.70 228.80H334.50M592.70 228.80H590.90" stroke="#383838" stroke-width="1.1" fill="none"/>
<text transform="translate(369.30 363.70) scale(0.9332 1)" font-size="8.90">100</text>
<text transform="translate(423.47 363.70) scale(0.9332 1)" font-size="8.90">150</text>
<text transform="translate(477.86 363.70) scale(0.9179 1)" font-size="8.90">200</text>
<text transform="translate(532.02 363.70) scale(0.9179 1)" font-size="8.90">250</text>
<text transform="translate(586.29 363.70) scale(0.9108 1)" font-size="8.90">300</text>
<g transform="translate(327.70 353.60) rotate(-90)"><text transform="translate(-8.73 0.00) scale(0.9840 1)" font-size="8.90">−0.4</text></g>
<g transform="translate(327.70 318.00) rotate(-90)"><text transform="translate(-8.74 0.00) scale(0.9950 1)" font-size="8.90">−0.2</text></g>
<g transform="translate(327.70 282.40) rotate(-90)"><text transform="translate(-2.73 0.00) scale(1.1047 1)" font-size="8.90">0</text></g>
<g transform="translate(327.70 246.80) rotate(-90)"><text transform="translate(-6.04 0.00) scale(0.9847 1)" font-size="8.90">0.2</text></g>
<g transform="translate(327.70 211.20) rotate(-90)"><text transform="translate(-6.04 0.00) scale(0.9691 1)" font-size="8.90">0.4</text></g>
<text transform="translate(437.17 373.90) scale(1.0437 1)" font-size="11.60">y</text>
<text transform="translate(450.37 373.90) scale(1.1500 1)" font-size="11.60" letter-spacing="0.295">(pixel)</text>
<g transform="translate(314.70 282.20) rotate(-90)"><text transform="translate(-45.93 0.00) scale(1.0500 1)" font-size="11.40" letter-spacing="1.008">scattered</text><text transform="translate(18.32 0.00) scale(1.0489 1)" font-size="11.40">wave</text></g>
<text transform="translate(388.44 203.70) scale(1.1500 1)" font-size="12.00" letter-spacing="0.802">(d)</text>
<text transform="translate(412.93 203.70) scale(1.0000 1)" font-size="12.00">p4</text>
<path d="M429.40 200.20H437.00 M434.30 197.80L437.00 200.20L434.30 202.60" stroke="#111" stroke-width="1.1" fill="none" stroke-linejoin="miter"/>
<text transform="translate(438.21 203.70) scale(1.1500 1)" font-size="12.00" letter-spacing="0.411">p3,</text>
<path d="M471.60 199.30Q472.40 198.20 473.50 198.20L477.50 198.20M475.00 198.30Q474.20 200.90 473.80 203.10" stroke="#1a1a1a" stroke-width="1.25" fill="none" stroke-linecap="round"/>
<path d="M479.30 199.20H487.10M479.30 201.40H487.10" stroke="#1a1a1a" stroke-width="0.95" fill="none"/>
<text transform="translate(488.59 203.70) scale(1.1500 1)" font-size="12.00" letter-spacing="0.554">75</text>
<text transform="translate(510.08 203.70) scale(1.1500 1)" font-size="12.00" letter-spacing="0.205">min.</text>
<line x1="337.80" y1="223.50" x2="349.60" y2="223.50" stroke="#4040b0" stroke-width="1.3"/>
<text transform="translate(352.07 225.70) scale(1.0651 1)" font-size="10.30">incident</text>
<line x1="337.80" y1="232.55" x2="349.60" y2="232.55" stroke="#48976a" stroke-width="1.3"/>
<text transform="translate(352.49 234.75) scale(1.0865 1)" font-size="10.30">scattered</text>
<text transform="translate(403.07 234.75) scale(1.1395 1)" font-size="10.30">(11084)</text>
<line x1="337.80" y1="241.60" x2="349.60" y2="241.60" stroke="#bf4a4a" stroke-width="1.3"/>
<text transform="translate(352.49 243.80) scale(1.0865 1)" font-size="10.30">scattered</text>
<text transform="translate(403.07 243.80) scale(1.1395 1)" font-size="10.30">(11092)</text>
<clipPath id="clipe"><rect x="26.80" y="403.00" width="260.00" height="144.40"/></clipPath>
<g clip-path="url(#clipe)" fill="none" stroke-width="1" stroke-linejoin="round">
<path d="M26.80 475.30 L27.31 475.30 L27.81 475.30 L28.32 475.30 L28.82 475.31 L29.33 475.31 L29.83 475.31 L30.34 475.32 L30.84 475.32 L31.35 475.33 L31.86 475.34 L32.36 475.34 L32.87 475.35 L33.37 475.36 L33.88 475.37 L34.38 475.37 L34.89 475.38 L35.39 475.39 L35.90 475.40 L36.41 475.41 L36.91 475.42 L37.42 475.43 L37.92 475.43 L38.43 475.44 L38.93 475.45 L39.44 475.46 L39.94 475.46 L40.45 475.47 L40.96 475.48 L41.46 475.48 L41.97 475.49 L42.47 475.49 L42.98 475.49 L43.48 475.50 L43.99 475.50 L44.49 475.50 L45.00 475.50 L45.51 475.50 L46.02 475.51 L46.52 475.52 L47.03 475.52 L47.54 475.53 L48.05 475.53 L48.56 475.53 L49.06 475.52 L49.57 475.50 L50.08 475.46 L50.59 475.41 L51.10 475.34 L51.60 475.26 L52.11 475.16 L52.62 475.06 L53.13 474.94 L53.64 474.82 L54.14 474.70 L54.65 474.59 L55.16 474.48 L55.67 474.38 L56.18 474.31 L56.68 474.25 L57.19 474.21 L57.70 474.20 L58.20 474.21 L58.71 474.23 L59.21 474.26 L59.72 474.32 L60.22 474.39 L60.73 474.47 L61.23 474.58 L61.73 474.71 L62.24 474.85 L62.74 475.02 L63.25 475.20 L63.75 475.40 L64.26 475.61 L64.76 475.82 L65.27 476.04 L65.77 476.25 L66.27 476.45 L66.78 476.64 L67.28 476.79 L67.79 476.92 L68.29 477.02 L68.80 477.08 L69.30 477.10 L69.84 477.11 L70.38 477.13 L70.92 477.16 L71.46 477.20 L72.00 477.25 L72.54 477.30 L73.08 477.34 L73.62 477.37 L74.16 477.39 L74.70 477.40 L75.20 477.36 L75.70 477.26 L76.20 477.09 L76.70 476.86 L77.20 476.59 L77.70 476.29 L78.20 475.96 L78.70 475.63 L79.20 475.30 L79.70 474.99 L80.20 474.70 L80.70 474.44 L81.20 474.21 L81.70 474.03 L82.20 473.89 L82.70 473.78 L83.20 473.72 L83.70 473.70 L84.22 473.74 L84.75 473.86 L85.27 474.06 L85.79 474.33 L86.32 474.68 L86.84 475.08 L87.36 475.53 L87.88 475.99 L88.41 476.43 L88.93 476.82 L89.45 477.13 L89.98 477.33 L90.50 477.40 L91.01 477.42 L91.53 477.47 L92.04 477.49 L92.55 477.41 L93.07 477.15 L93.58 476.63 L94.09 475.82 L94.61 474.71 L95.12 473.36 L95.63 471.85 L96.15 470.32 L96.66 468.92 L97.17 467.79 L97.69 467.05 L98.20 466.80 L98.71 466.88 L99.21 467.15 L99.72 467.61 L100.22 468.32 L100.73 469.32 L101.24 470.62 L101.74 472.26 L102.25 474.21 L102.75 476.45 L103.26 478.88 L103.76 481.41 L104.27 483.90 L104.78 486.21 L105.28 488.19 L105.79 489.71 L106.29 490.67 L106.80 491.00 L107.30 490.87 L107.80 490.48 L108.30 489.79 L108.80 488.75 L109.30 487.33 L109.80 485.47 L110.30 483.14 L110.80 480.34 L111.30 477.08 L111.80 473.43 L112.30 469.49 L112.80 465.39 L113.30 461.30 L113.80 457.40 L114.30 453.87 L114.80 450.91 L115.30 448.67 L115.80 447.27 L116.30 446.80 L116.80 447.00 L117.31 447.59 L117.81 448.60 L118.32 450.07 L118.82 452.03 L119.33 454.51 L119.83 457.56 L120.34 461.18 L120.84 465.37 L121.35 470.10 L121.85 475.30 L122.35 480.88 L122.86 486.72 L123.36 492.67 L123.87 498.54 L124.37 504.15 L124.88 509.31 L125.38 513.84 L125.89 517.55 L126.39 520.32 L126.90 522.02 L127.40 522.60 L127.91 522.31 L128.42 521.44 L128.93 519.99 L129.45 517.96 L129.96 515.35 L130.47 512.15 L130.98 508.39 L131.49 504.06 L132.00 499.20 L132.52 493.84 L133.03 488.02 L133.54 481.82 L134.05 475.30 L134.56 468.56 L135.07 461.70 L135.58 454.83 L136.10 448.08 L136.61 441.57 L137.12 435.44 L137.63 429.82 L138.14 424.82 L138.65 420.56 L139.17 417.14 L139.68 414.64 L140.19 413.11 L140.70 412.60 L141.20 412.88 L141.71 413.74 L142.21 415.15 L142.71 417.12 L143.22 419.62 L143.72 422.66 L144.22 426.19 L144.72 430.21 L145.23 434.68 L145.73 439.56 L146.23 444.83 L146.74 450.44 L147.24 456.35 L147.74 462.49 L148.25 468.83 L148.75 475.30 L149.25 481.84 L149.76 488.38 L150.26 494.87 L150.76 501.23 L151.27 507.39 L151.77 513.29 L152.27 518.86 L152.78 524.04 L153.28 528.77 L153.78 532.99 L154.28 536.65 L154.79 539.71 L155.29 542.14 L155.79 543.89 L156.30 544.95 L156.80 545.30 L157.30 545.07 L157.80 544.40 L158.30 543.27 L158.80 541.71 L159.30 539.72 L159.80 537.31 L160.30 534.50 L160.80 531.31 L161.30 527.75 L161.80 523.85 L162.30 519.64 L162.80 515.14 L163.30 510.38 L163.80 505.38 L164.30 500.19 L164.80 494.84 L165.30 489.35 L165.80 483.77 L166.30 478.13 L166.80 472.47 L167.30 466.82 L167.80 461.23 L168.30 455.72 L168.80 450.33 L169.30 445.11 L169.80 440.08 L170.30 435.27 L170.80 430.72 L171.30 426.46 L171.80 422.51 L172.30 418.91 L172.80 415.67 L173.30 412.82 L173.80 410.37 L174.30 408.35 L174.80 406.76 L175.30 405.62 L175.80 404.93 L176.30 404.70 L176.81 404.89 L177.31 405.44 L177.82 406.36 L178.33 407.65 L178.83 409.28 L179.34 411.25 L179.85 413.55 L180.35 416.16 L180.86 419.06 L181.37 422.23 L181.87 425.66 L182.38 429.31 L182.89 433.17 L183.39 437.21 L183.90 441.41 L184.41 445.74 L184.91 450.18 L185.42 454.69 L185.93 459.26 L186.43 463.85 L186.94 468.45 L187.45 473.03 L187.95 477.56 L188.46 482.03 L188.97 486.41 L189.47 490.68 L189.98 494.83 L190.49 498.84 L190.99 502.69 L191.50 506.36 L192.01 509.85 L192.51 513.15 L193.02 516.23 L193.53 519.10 L194.03 521.74 L194.54 524.15 L195.05 526.32 L195.55 528.24 L196.06 529.92 L196.57 531.34 L197.07 532.51 L197.58 533.42 L198.09 534.08 L198.59 534.47 L199.10 534.60 L199.60 534.48 L200.10 534.13 L200.60 533.55 L201.10 532.73 L201.60 531.70 L202.10 530.44 L202.60 528.97 L203.10 527.31 L203.60 525.44 L204.10 523.40 L204.60 521.19 L205.10 518.82 L205.60 516.30 L206.10 513.65 L206.60 510.88 L207.10 508.01 L207.60 505.05 L208.10 502.02 L208.60 498.93 L209.10 495.79 L209.60 492.63 L210.10 489.45 L210.60 486.26 L211.10 483.09 L211.60 479.95 L212.10 476.84 L212.60 473.78 L213.10 470.77 L213.60 467.84 L214.10 464.99 L214.60 462.22 L215.10 459.54 L215.60 456.97 L216.10 454.50 L216.60 452.15 L217.10 449.91 L217.60 447.79 L218.10 445.79 L218.60 443.92 L219.10 442.18 L219.60 440.56 L220.10 439.08 L220.60 437.72 L221.10 436.50 L221.60 435.40 L222.10 434.44 L222.60 433.60 L223.10 432.90 L223.60 432.32 L224.10 431.88 L224.60 431.56 L225.10 431.36 L225.60 431.30 L226.11 431.36 L226.61 431.54 L227.12 431.84 L227.62 432.25 L228.13 432.78 L228.64 433.42 L229.14 434.18 L229.65 435.04 L230.15 436.00 L230.66 437.06 L231.17 438.21 L231.67 439.45 L232.18 440.77 L232.68 442.17 L233.19 443.63 L233.70 445.16 L234.20 446.75 L234.71 448.39 L235.21 450.08 L235.72 451.80 L236.23 453.55 L236.73 455.32 L237.24 457.11 L237.74 458.90 L238.25 460.71 L238.76 462.50 L239.26 464.29 L239.77 466.06 L240.27 467.81 L240.78 469.54 L241.29 471.23 L241.79 472.89 L242.30 474.51 L242.80 476.08 L243.31 477.61 L243.81 479.08 L244.32 480.50 L244.83 481.87 L245.33 483.18 L245.84 484.43 L246.34 485.62 L246.85 486.75 L247.36 487.82 L247.86 488.82 L248.37 489.77 L248.87 490.66 L249.38 491.49 L249.89 492.26 L250.39 492.98 L250.90 493.64 L251.40 494.25 L251.91 494.81 L252.42 495.32 L252.92 495.78 L253.43 496.20 L253.93 496.58 L254.44 496.91 L254.95 497.21 L255.45 497.47 L255.96 497.69 L256.46 497.89 L256.97 498.05 L257.48 498.17 L257.98 498.27 L258.49 498.34 L258.99 498.39 L259.50 498.40 L260.00 498.39 L260.50 498.35 L261.00 498.29 L261.50 498.20 L262.00 498.09 L262.50 497.96 L263.00 497.80 L263.50 497.61 L264.00 497.41 L264.50 497.18 L265.00 496.93 L265.50 496.65 L266.00 496.36 L266.50 496.05 L267.00 495.71 L267.50 495.36 L268.00 494.98 L268.50 494.59 L269.00 494.18 L269.50 493.76 L270.00 493.32 L270.50 492.86 L271.00 492.39 L271.50 491.91 L272.00 491.41 L272.50 490.91 L273.00 490.39 L273.50 489.87 L274.00 489.33 L274.50 488.79 L275.00 488.24 L275.50 487.69 L276.00 487.13 L276.50 486.57 L277.00 486.01 L277.50 485.44 L278.00 484.88 L278.50 484.31 L279.00 483.74 L279.50 483.18 L280.00 482.62 L280.50 482.07 L281.00 481.51 L281.50 480.97 L282.00 480.43 L282.50 479.90 L283.00 479.37 L283.50 478.85 L284.00 478.34 L284.50 477.85 L285.00 477.36 L285.50 476.88 L286.00 476.41 L286.50 475.96 L287.00 475.52 L287.50 475.09 L288.00 474.67 L288.50 474.26 L289.00 473.87 L289.50 473.50 L290.00 473.13 L290.50 472.78 L291.00 472.45 L291.50 472.13 L292.00 471.82 L292.50 471.53 L293.00 471.25 L293.50 470.98 L294.00 470.73 L294.50 470.49 L295.00 470.27 L295.50 470.06 L296.00 469.86 L296.50 469.68 L297.00 469.50 L297.50 469.34 L298.00 469.19 L298.50 469.05 L299.00 468.93 L299.50 468.81 L300.00 468.71 L300.50 468.61 L301.00 468.52 L301.50 468.44 L302.00 468.37 L302.50 468.31 L303.00 468.26 L303.50 468.21 L304.00 468.17 L304.50 468.13 L305.00 468.10 L305.50 468.07 L306.00 468.05 L306.50 468.03 L307.00 468.02 L307.50 468.01 L308.00 468.00 L308.50 468.00 L309.00 467.99 L309.50 467.99 L310.00 467.99 L310.50 467.99 L311.00 467.99 L311.50 467.99 L312.00 467.99 L312.50 467.99 L313.00 468.00 L313.50 468.00 L314.00 468.00 L314.50 468.00 L315.00 468.00" stroke="#6a6ae2"/>
<path d="M26.80 476.70 L27.32 476.69 L27.84 476.68 L28.36 476.64 L28.88 476.59 L29.40 476.53 L29.93 476.43 L30.45 476.32 L30.97 476.18 L31.49 476.00 L32.01 475.80 L32.53 475.56 L33.05 475.30 L33.57 475.01 L34.09 474.71 L34.61 474.39 L35.13 474.07 L35.65 473.76 L36.17 473.47 L36.70 473.19 L37.22 472.96 L37.74 472.76 L38.26 472.62 L38.78 472.53 L39.30 472.50 L39.81 472.53 L40.32 472.64 L40.83 472.80 L41.33 473.02 L41.84 473.28 L42.35 473.58 L42.86 473.91 L43.37 474.24 L43.88 474.56 L44.39 474.88 L44.90 475.17 L45.40 475.43 L45.91 475.65 L46.42 475.84 L46.93 475.98 L47.44 476.10 L47.95 476.18 L48.46 476.23 L48.97 476.27 L49.47 476.29 L49.98 476.30 L50.49 476.30 L51.00 476.30 L51.50 476.26 L52.00 476.16 L52.50 476.01 L53.00 475.82 L53.50 475.62 L54.00 475.44 L54.50 475.30 L55.00 475.20 L55.50 475.15 L56.00 475.13 L56.50 475.15 L57.00 475.17 L57.50 475.19 L58.00 475.20 L58.51 475.19 L59.02 475.17 L59.53 475.14 L60.04 475.11 L60.55 475.09 L61.06 475.08 L61.57 475.10 L62.08 475.16 L62.59 475.24 L63.11 475.37 L63.62 475.52 L64.13 475.71 L64.64 475.90 L65.15 476.11 L65.66 476.30 L66.17 476.46 L66.68 476.59 L67.19 476.67 L67.70 476.70 L68.21 476.68 L68.72 476.62 L69.23 476.52 L69.74 476.38 L70.25 476.22 L70.76 476.03 L71.27 475.83 L71.78 475.62 L72.29 475.40 L72.81 475.20 L73.32 475.00 L73.83 474.82 L74.34 474.66 L74.85 474.52 L75.36 474.41 L75.87 474.32 L76.38 474.25 L76.89 474.21 L77.40 474.20 L77.91 474.22 L78.42 474.30 L78.93 474.41 L79.44 474.55 L79.95 474.70 L80.46 474.85 L80.97 474.99 L81.48 475.10 L81.99 475.18 L82.50 475.20 L83.04 475.16 L83.59 475.05 L84.13 474.87 L84.68 474.66 L85.22 474.44 L85.77 474.22 L86.31 474.05 L86.86 473.94 L87.40 473.90 L87.92 473.90 L88.45 473.92 L88.97 473.99 L89.49 474.16 L90.02 474.48 L90.54 474.98 L91.06 475.66 L91.58 476.47 L92.11 477.34 L92.63 478.18 L93.15 478.88 L93.68 479.34 L94.20 479.50 L94.73 479.34 L95.25 478.87 L95.78 478.12 L96.31 477.12 L96.84 475.93 L97.36 474.65 L97.89 473.38 L98.42 472.22 L98.95 471.30 L99.47 470.71 L100.00 470.50 L100.53 470.52 L101.05 470.63 L101.58 470.98 L102.10 471.79 L102.62 473.20 L103.15 475.30 L103.67 477.99 L104.20 481.04 L104.72 484.07 L105.25 486.65 L105.77 488.39 L106.30 489.00 L106.83 488.79 L107.35 488.17 L107.88 487.12 L108.40 485.62 L108.92 483.66 L109.45 481.26 L109.97 478.45 L110.50 475.30 L111.03 471.92 L111.55 468.44 L112.08 465.05 L112.60 461.93 L113.12 459.26 L113.65 457.22 L114.17 455.94 L114.70 455.50 L115.20 455.71 L115.70 456.33 L116.20 457.37 L116.70 458.83 L117.20 460.69 L117.70 462.95 L118.20 465.58 L118.70 468.55 L119.20 471.81 L119.70 475.30 L120.20 478.93 L120.70 482.61 L121.20 486.24 L121.70 489.69 L122.20 492.86 L122.70 495.64 L123.20 497.91 L123.70 499.60 L124.20 500.65 L124.70 501.00 L125.20 500.76 L125.71 500.07 L126.21 498.92 L126.72 497.35 L127.22 495.39 L127.73 493.10 L128.23 490.52 L128.73 487.70 L129.24 484.71 L129.74 481.61 L130.25 478.45 L130.75 475.30 L131.25 472.21 L131.76 469.23 L132.26 466.42 L132.77 463.80 L133.27 461.42 L133.78 459.30 L134.28 457.47 L134.78 455.95 L135.29 454.76 L135.79 453.89 L136.30 453.37 L136.80 453.20 L137.31 453.39 L137.82 453.95 L138.32 454.86 L138.83 456.11 L139.34 457.65 L139.85 459.45 L140.35 461.47 L140.86 463.65 L141.37 465.95 L141.88 468.31 L142.38 470.68 L142.89 473.03 L143.40 475.30 L143.91 477.46 L144.42 479.49 L144.92 481.36 L145.43 483.05 L145.94 484.56 L146.45 485.87 L146.95 487.00 L147.46 487.94 L147.97 488.69 L148.48 489.27 L148.98 489.68 L149.49 489.92 L150.00 490.00 L150.50 489.94 L151.00 489.77 L151.50 489.49 L152.00 489.10 L152.50 488.61 L153.00 488.02 L153.50 487.34 L154.00 486.58 L154.50 485.74 L155.00 484.83 L155.50 483.87 L156.00 482.86 L156.50 481.81 L157.00 480.74 L157.50 479.65 L158.00 478.55 L158.50 477.45 L159.00 476.37 L159.50 475.30 L160.00 474.26 L160.50 473.25 L161.00 472.29 L161.50 471.37 L162.00 470.49 L162.50 469.67 L163.00 468.91 L163.50 468.20 L164.00 467.56 L164.50 466.98 L165.00 466.45 L165.50 465.99 L166.00 465.59 L166.50 465.26 L167.00 464.99 L167.50 464.77 L168.00 464.62 L168.50 464.53 L169.00 464.50 L169.50 464.55 L170.00 464.69 L170.50 464.93 L171.00 465.25 L171.50 465.66 L172.00 466.15 L172.50 466.71 L173.00 467.33 L173.50 468.00 L174.00 468.71 L174.50 469.45 L175.00 470.21 L175.50 470.98 L176.00 471.75 L176.50 472.52 L177.00 473.26 L177.50 473.98 L178.00 474.66 L178.50 475.30 L179.00 475.90 L179.50 476.45 L180.00 476.94 L180.50 477.39 L181.00 477.78 L181.50 478.12 L182.00 478.41 L182.50 478.66 L183.00 478.87 L183.50 479.03 L184.00 479.16 L184.50 479.27 L185.00 479.34 L185.50 479.40 L186.00 479.44 L186.50 479.47 L187.00 479.49 L187.50 479.50 L188.00 479.50 L188.50 479.45 L189.00 479.30 L189.50 479.06 L190.00 478.74 L190.50 478.35 L191.00 477.92 L191.50 477.45 L192.00 476.98 L192.50 476.51 L193.00 476.06 L193.50 475.66 L194.00 475.30 L194.50 475.00 L195.00 474.77 L195.50 474.59 L196.00 474.48 L196.50 474.41 L197.00 474.38 L197.50 474.39 L198.00 474.41 L198.50 474.44 L199.00 474.47 L199.50 474.49 L200.00 474.50 L200.50 474.50 L201.00 474.49 L201.50 474.49 L202.00 474.50 L202.50 474.54 L203.00 474.64 L203.50 474.79 L204.00 475.01 L204.50 475.30 L205.00 475.65 L205.50 476.06 L206.00 476.49 L206.50 476.92 L207.00 477.33 L207.50 477.69 L208.00 477.97 L208.50 478.14 L209.00 478.20 L209.50 478.19 L210.00 478.16 L210.50 478.11 L211.00 478.04 L211.50 477.95 L212.00 477.85 L212.50 477.72 L213.00 477.58 L213.50 477.42 L214.00 477.25 L214.50 477.07 L215.00 476.87 L215.50 476.67 L216.00 476.45 L216.50 476.23 L217.00 476.00 L217.50 475.77 L218.00 475.54 L218.50 475.30 L219.00 475.06 L219.50 474.83 L220.00 474.60 L220.50 474.38 L221.00 474.16 L221.50 473.95 L222.00 473.76 L222.50 473.57 L223.00 473.39 L223.50 473.23 L224.00 473.08 L224.50 472.95 L225.00 472.83 L225.50 472.73 L226.00 472.65 L226.50 472.58 L227.00 472.54 L227.50 472.51 L228.00 472.50 L228.50 472.51 L229.00 472.54 L229.50 472.59 L230.00 472.66 L230.50 472.74 L231.00 472.85 L231.50 472.97 L232.00 473.10 L232.50 473.24 L233.00 473.40 L233.50 473.56 L234.00 473.73 L234.50 473.90 L235.00 474.07 L235.50 474.25 L236.00 474.42 L236.50 474.58 L237.00 474.74 L237.50 474.90 L238.00 475.04 L238.50 475.18 L239.00 475.30 L239.50 475.41 L240.00 475.51 L240.50 475.60 L241.00 475.67 L241.50 475.74 L242.00 475.79 L242.50 475.83 L243.00 475.86 L243.50 475.88 L244.00 475.89 L244.50 475.89 L245.00 475.89 L245.50 475.88 L246.00 475.87 L246.50 475.86 L247.00 475.85 L247.50 475.84 L248.00 475.82 L248.50 475.81 L249.00 475.81 L249.50 475.80 L250.00 475.80 L250.50 475.80 L251.01 475.82 L251.51 475.84 L252.02 475.86 L252.52 475.90 L253.03 475.94 L253.53 475.99 L254.03 476.05 L254.54 476.11 L255.04 476.18 L255.55 476.26 L256.05 476.34 L256.56 476.43 L257.06 476.52 L257.57 476.62 L258.07 476.72 L258.57 476.82 L259.08 476.93 L259.58 477.04 L260.09 477.15 L260.59 477.27 L261.10 477.38 L261.60 477.50 L262.10 477.62 L262.61 477.73 L263.11 477.85 L263.62 477.96 L264.12 478.07 L264.63 478.18 L265.13 478.28 L265.63 478.38 L266.14 478.48 L266.64 478.57 L267.15 478.66 L267.65 478.74 L268.16 478.82 L268.66 478.89 L269.17 478.95 L269.67 479.01 L270.17 479.06 L270.68 479.10 L271.18 479.14 L271.69 479.16 L272.19 479.18 L272.70 479.20 L273.20 479.20 L273.71 479.18 L274.22 479.14 L274.72 479.06 L275.23 478.95 L275.74 478.81 L276.25 478.64 L276.76 478.45 L277.26 478.24 L277.77 478.01 L278.28 477.75 L278.79 477.49 L279.30 477.21 L279.81 476.92 L280.31 476.63 L280.82 476.33 L281.33 476.03 L281.84 475.73 L282.35 475.44 L282.85 475.16 L283.36 474.88 L283.87 474.62 L284.38 474.37 L284.89 474.13 L285.39 473.90 L285.90 473.69 L286.41 473.50 L286.92 473.33 L287.43 473.17 L287.94 473.03 L288.44 472.90 L288.95 472.79 L289.46 472.70 L289.97 472.63 L290.48 472.57 L290.98 472.53 L291.49 472.51 L292.00 472.50" stroke="#58b280"/>
<path d="M26.80 475.50 L27.31 475.50 L27.81 475.51 L28.32 475.52 L28.83 475.54 L29.34 475.56 L29.84 475.59 L30.35 475.62 L30.86 475.65 L31.36 475.69 L31.87 475.73 L32.38 475.77 L32.89 475.81 L33.39 475.86 L33.90 475.90 L34.41 475.94 L34.91 475.99 L35.42 476.03 L35.93 476.07 L36.44 476.11 L36.94 476.15 L37.45 476.18 L37.96 476.21 L38.46 476.24 L38.97 476.26 L39.48 476.28 L39.99 476.29 L40.49 476.30 L41.00 476.30 L41.50 476.30 L42.00 476.29 L42.50 476.27 L43.00 476.25 L43.50 476.22 L44.00 476.19 L44.50 476.14 L45.00 476.08 L45.50 476.01 L46.00 475.93 L46.50 475.83 L47.00 475.72 L47.50 475.59 L48.00 475.45 L48.50 475.30 L49.00 475.14 L49.50 474.97 L50.00 474.79 L50.50 474.61 L51.00 474.43 L51.50 474.25 L52.00 474.07 L52.50 473.91 L53.00 473.76 L53.50 473.63 L54.00 473.51 L54.50 473.42 L55.00 473.35 L55.50 473.31 L56.00 473.30 L56.51 473.31 L57.01 473.34 L57.52 473.40 L58.03 473.47 L58.54 473.57 L59.04 473.69 L59.55 473.82 L60.06 473.98 L60.56 474.16 L61.07 474.36 L61.58 474.57 L62.09 474.80 L62.59 475.05 L63.10 475.30 L63.61 475.56 L64.11 475.83 L64.62 476.09 L65.13 476.35 L65.64 476.61 L66.14 476.85 L66.65 477.08 L67.16 477.28 L67.66 477.46 L68.17 477.62 L68.68 477.74 L69.19 477.83 L69.69 477.88 L70.20 477.90 L70.71 477.90 L71.22 477.88 L71.72 477.86 L72.23 477.83 L72.74 477.79 L73.25 477.73 L73.76 477.66 L74.26 477.58 L74.77 477.48 L75.28 477.36 L75.79 477.22 L76.29 477.06 L76.80 476.87 L77.31 476.67 L77.82 476.44 L78.33 476.19 L78.83 475.91 L79.34 475.62 L79.85 475.30 L80.36 474.96 L80.87 474.61 L81.37 474.25 L81.88 473.88 L82.39 473.50 L82.90 473.11 L83.41 472.74 L83.91 472.36 L84.42 472.01 L84.93 471.66 L85.44 471.34 L85.94 471.05 L86.45 470.78 L86.96 470.55 L87.47 470.36 L87.98 470.20 L88.48 470.09 L88.99 470.02 L89.50 470.00 L90.03 470.08 L90.55 470.31 L91.08 470.69 L91.60 471.18 L92.12 471.74 L92.65 472.35 L93.17 472.96 L93.70 473.53 L94.22 474.01 L94.75 474.39 L95.27 474.62 L95.80 474.70 L96.33 474.64 L96.85 474.45 L97.38 474.17 L97.91 473.79 L98.44 473.37 L98.96 472.93 L99.49 472.51 L100.02 472.13 L100.55 471.85 L101.07 471.66 L101.60 471.60 L102.12 471.68 L102.64 471.98 L103.16 472.62 L103.68 473.71 L104.20 475.30 L104.72 477.29 L105.24 479.43 L105.76 481.37 L106.28 482.72 L106.80 483.20 L107.31 483.13 L107.83 482.91 L108.34 482.49 L108.85 481.81 L109.36 480.79 L109.88 479.37 L110.39 477.54 L110.90 475.30 L111.41 472.72 L111.92 469.92 L112.44 467.07 L112.95 464.34 L113.46 461.95 L113.97 460.09 L114.49 458.91 L115.00 458.50 L115.51 458.68 L116.02 459.22 L116.53 460.13 L117.04 461.43 L117.55 463.11 L118.06 465.19 L118.57 467.66 L119.08 470.49 L119.59 473.63 L120.11 477.02 L120.62 480.56 L121.13 484.13 L121.64 487.62 L122.15 490.88 L122.66 493.78 L123.17 496.19 L123.68 498.00 L124.19 499.12 L124.70 499.50 L125.20 499.30 L125.71 498.72 L126.21 497.75 L126.72 496.40 L127.22 494.70 L127.73 492.67 L128.23 490.33 L128.73 487.71 L129.24 484.86 L129.74 481.80 L130.25 478.60 L130.75 475.30 L131.25 471.96 L131.76 468.63 L132.26 465.38 L132.77 462.26 L133.27 459.34 L133.78 456.68 L134.28 454.32 L134.78 452.32 L135.29 450.72 L135.79 449.55 L136.30 448.84 L136.80 448.60 L137.31 448.78 L137.81 449.32 L138.32 450.21 L138.83 451.42 L139.33 452.94 L139.84 454.73 L140.35 456.76 L140.86 458.98 L141.36 461.36 L141.87 463.85 L142.38 466.41 L142.88 468.99 L143.39 471.56 L143.90 474.07 L144.40 476.50 L144.91 478.82 L145.42 481.00 L145.92 483.03 L146.43 484.88 L146.94 486.56 L147.44 488.05 L147.95 489.36 L148.46 490.48 L148.97 491.42 L149.47 492.17 L149.98 492.76 L150.49 493.17 L150.99 493.42 L151.50 493.50 L152.00 493.40 L152.50 493.12 L153.00 492.64 L153.50 491.99 L154.00 491.18 L154.50 490.20 L155.00 489.09 L155.50 487.86 L156.00 486.53 L156.50 485.11 L157.00 483.64 L157.50 482.12 L158.00 480.58 L158.50 479.04 L159.00 477.52 L159.50 476.03 L160.00 474.59 L160.50 473.21 L161.00 471.90 L161.50 470.67 L162.00 469.53 L162.50 468.49 L163.00 467.54 L163.50 466.69 L164.00 465.93 L164.50 465.28 L165.00 464.71 L165.50 464.24 L166.00 463.86 L166.50 463.57 L167.00 463.36 L167.50 463.24 L168.00 463.20 L168.50 463.25 L169.00 463.38 L169.50 463.61 L170.00 463.93 L170.50 464.33 L171.00 464.82 L171.50 465.38 L172.00 466.02 L172.50 466.73 L173.00 467.51 L173.50 468.35 L174.00 469.24 L174.50 470.17 L175.00 471.15 L175.50 472.16 L176.00 473.19 L176.50 474.24 L177.00 475.30 L177.50 476.36 L178.00 477.41 L178.50 478.45 L179.00 479.46 L179.50 480.44 L180.00 481.39 L180.50 482.29 L181.00 483.13 L181.50 483.92 L182.00 484.64 L182.50 485.29 L183.00 485.86 L183.50 486.35 L184.00 486.76 L184.50 487.08 L185.00 487.31 L185.50 487.45 L186.00 487.50 L186.50 487.46 L187.00 487.33 L187.50 487.11 L188.00 486.81 L188.50 486.44 L189.00 485.99 L189.50 485.47 L190.00 484.89 L190.50 484.26 L191.00 483.59 L191.50 482.88 L192.00 482.14 L192.50 481.38 L193.00 480.61 L193.50 479.84 L194.00 479.07 L194.50 478.32 L195.00 477.59 L195.50 476.89 L196.00 476.23 L196.50 475.60 L197.00 475.01 L197.50 474.48 L198.00 473.99 L198.50 473.55 L199.00 473.15 L199.50 472.81 L200.00 472.52 L200.50 472.27 L201.00 472.07 L201.50 471.90 L202.00 471.77 L202.50 471.67 L203.00 471.60 L203.50 471.55 L204.00 471.52 L204.50 471.50 L205.00 471.49 L205.50 471.49 L206.00 471.49 L206.50 471.50 L207.00 471.50 L207.50 471.50 L208.00 471.54 L208.50 471.65 L209.00 471.83 L209.50 472.08 L210.00 472.37 L210.50 472.71 L211.00 473.08 L211.50 473.46 L212.00 473.85 L212.50 474.23 L213.00 474.58 L213.50 474.90 L214.00 475.18 L214.50 475.41 L215.00 475.59 L215.50 475.73 L216.00 475.81 L216.50 475.85 L217.00 475.85 L217.50 475.82 L218.00 475.78 L218.50 475.71 L219.00 475.65 L219.50 475.59 L220.00 475.54 L220.50 475.51 L221.00 475.50 L221.50 475.51 L222.00 475.52 L222.50 475.54 L223.00 475.55 L223.50 475.55 L224.00 475.54 L224.50 475.49 L225.00 475.41 L225.50 475.30 L226.00 475.15 L226.50 474.98 L227.00 474.79 L227.50 474.59 L228.00 474.40 L228.50 474.24 L229.00 474.11 L229.50 474.03 L230.00 474.00 L230.50 474.00 L231.01 474.00 L231.51 474.01 L232.02 474.03 L232.52 474.07 L233.03 474.13 L233.53 474.22 L234.03 474.35 L234.54 474.52 L235.04 474.73 L235.55 474.99 L236.05 475.30 L236.55 475.65 L237.06 476.03 L237.56 476.43 L238.07 476.85 L238.57 477.27 L239.07 477.67 L239.58 478.04 L240.08 478.37 L240.59 478.63 L241.09 478.83 L241.60 478.96 L242.10 479.00 L242.62 478.97 L243.15 478.88 L243.67 478.72 L244.19 478.52 L244.72 478.26 L245.24 477.97 L245.76 477.66 L246.29 477.32 L246.81 476.98 L247.34 476.64 L247.86 476.33 L248.38 476.04 L248.91 475.78 L249.43 475.58 L249.95 475.42 L250.48 475.33 L251.00 475.30 L251.50 475.32 L252.01 475.37 L252.51 475.45 L253.02 475.57 L253.52 475.71 L254.03 475.88 L254.53 476.08 L255.04 476.28 L255.54 476.51 L256.05 476.73 L256.55 476.97 L257.06 477.19 L257.56 477.42 L258.07 477.62 L258.57 477.82 L259.08 477.99 L259.58 478.13 L260.09 478.25 L260.59 478.33 L261.10 478.38 L261.60 478.40 L262.11 478.40 L262.61 478.39 L263.12 478.38 L263.63 478.36 L264.13 478.34 L264.64 478.31 L265.15 478.28 L265.65 478.24 L266.16 478.19 L266.67 478.14 L267.17 478.08 L267.68 478.02 L268.19 477.94 L268.69 477.86 L269.20 477.77 L269.71 477.67 L270.21 477.57 L270.72 477.45 L271.23 477.32 L271.73 477.19 L272.24 477.04 L272.75 476.89 L273.25 476.72 L273.76 476.55 L274.27 476.36 L274.77 476.17 L275.28 475.96 L275.79 475.75 L276.29 475.53 L276.80 475.30 L277.31 475.06 L277.81 474.82 L278.32 474.57 L278.83 474.32 L279.33 474.06 L279.84 473.80 L280.35 473.53 L280.85 473.27 L281.36 473.00 L281.87 472.74 L282.37 472.48 L282.88 472.22 L283.39 471.96 L283.89 471.72 L284.40 471.48 L284.91 471.25 L285.41 471.03 L285.92 470.82 L286.43 470.62 L286.93 470.43 L287.44 470.26 L287.95 470.11 L288.45 469.97 L288.96 469.85 L289.47 469.74 L289.97 469.66 L290.48 469.59 L290.99 469.54 L291.49 469.51 L292.00 469.50" stroke="#dc6262"/>
</g>
<line x1="26.80" y1="475.50" x2="286.80" y2="475.50" stroke="#444" stroke-width="0.95"/>
<rect x="26.80" y="404.00" width="260.00" height="142.40" fill="none" stroke="#383838" stroke-width="1.2"/>
<path d="M37.63 546.40V544.60M37.63 404.00V405.80M48.47 546.40V544.60M48.47 404.00V405.80M59.30 546.40V544.60M59.30 404.00V405.80M70.13 546.40V542.90M70.13 404.00V407.50M80.97 546.40V544.60M80.97 404.00V405.80M91.80 546.40V544.60M91.80 404.00V405.80M102.63 546.40V544.60M102.63 404.00V405.80M113.47 546.40V544.60M113.47 404.00V405.80M124.30 546.40V542.90M124.30 404.00V407.50M135.13 546.40V544.60M135.13 404.00V405.80M145.97 546.40V544.60M145.97 404.00V405.80M156.80 546.40V544.60M156.80 404.00V405.80M167.63 546.40V544.60M167.63 404.00V405.80M178.47 546.40V542.90M178.47 404.00V407.50M189.30 546.40V544.60M189.30 404.00V405.80M200.13 546.40V544.60M200.13 404.00V405.80M210.97 546.40V544.60M210.97 404.00V405.80M221.80 546.40V544.60M221.80 404.00V405.80M232.63 546.40V542.90M232.63 404.00V407.50M243.47 546.40V544.60M243.47 404.00V405.80M254.30 546.40V544.60M254.30 404.00V405.80M265.13 546.40V544.60M265.13 404.00V405.80M275.97 546.40V544.60M275.97 404.00V405.80M26.80 528.60H28.60M286.80 528.60H285.00M26.80 510.80H30.30M286.80 510.80H283.30M26.80 493.00H28.60M286.80 493.00H285.00M26.80 475.20H30.30M286.80 475.20H283.30M26.80 457.40H28.60M286.80 457.40H285.00M26.80 439.60H30.30M286.80 439.60H283.30M26.80 421.80H28.60M286.80 421.80H285.00" stroke="#383838" stroke-width="1.1" fill="none"/>
<text transform="translate(63.40 556.70) scale(0.9332 1)" font-size="8.90">100</text>
<text transform="translate(117.57 556.70) scale(0.9332 1)" font-size="8.90">150</text>
<text transform="translate(171.96 556.70) scale(0.9179 1)" font-size="8.90">200</text>
<text transform="translate(226.12 556.70) scale(0.9179 1)" font-size="8.90">250</text>
<text transform="translate(280.39 556.70) scale(0.9108 1)" font-size="8.90">300</text>
<g transform="translate(21.80 546.60) rotate(-90)"><text transform="translate(-8.73 0.00) scale(0.9840 1)" font-size="8.90">−0.4</text></g>
<g transform="translate(21.80 511.00) rotate(-90)"><text transform="translate(-8.74 0.00) scale(0.9950 1)" font-size="8.90">−0.2</text></g>
<g transform="translate(21.80 475.40) rotate(-90)"><text transform="translate(-2.73 0.00) scale(1.1047 1)" font-size="8.90">0</text></g>
<g transform="translate(21.80 439.80) rotate(-90)"><text transform="translate(-6.04 0.00) scale(0.9847 1)" font-size="8.90">0.2</text></g>
<g transform="translate(21.80 404.20) rotate(-90)"><text transform="translate(-6.04 0.00) scale(0.9691 1)" font-size="8.90">0.4</text></g>
<text transform="translate(131.27 566.90) scale(1.0437 1)" font-size="11.60">y</text>
<text transform="translate(144.47 566.90) scale(1.1500 1)" font-size="11.60" letter-spacing="0.295">(pixel)</text>
<g transform="translate(8.80 475.20) rotate(-90)"><text transform="translate(-45.93 0.00) scale(1.0500 1)" font-size="11.40" letter-spacing="1.008">scattered</text><text transform="translate(18.32 0.00) scale(1.0489 1)" font-size="11.40">wave</text></g>
<text transform="translate(82.64 396.70) scale(1.1500 1)" font-size="12.00" letter-spacing="0.802">(e)</text>
<text transform="translate(107.13 396.70) scale(1.0000 1)" font-size="12.00">p5</text>
<path d="M123.60 393.20H131.20 M128.50 390.80L131.20 393.20L128.50 395.60" stroke="#111" stroke-width="1.1" fill="none" stroke-linejoin="miter"/>
<text transform="translate(132.41 396.70) scale(1.1463 1)" font-size="12.00">p4,</text>
<path d="M165.30 392.30Q166.10 391.20 167.20 391.20L171.20 391.20M168.70 391.30Q167.90 393.90 167.50 396.10" stroke="#1a1a1a" stroke-width="1.25" fill="none" stroke-linecap="round"/>
<path d="M173.00 392.20H180.80M173.00 394.40H180.80" stroke="#1a1a1a" stroke-width="0.95" fill="none"/>
<text transform="translate(182.62 396.70) scale(1.1166 1)" font-size="12.00">60</text>
<text transform="translate(203.38 396.70) scale(1.1500 1)" font-size="12.00" letter-spacing="0.147">min.</text>
<line x1="31.90" y1="416.50" x2="43.70" y2="416.50" stroke="#4040b0" stroke-width="1.3"/>
<text transform="translate(46.07 418.70) scale(1.0651 1)" font-size="10.30">incident</text>
<line x1="31.90" y1="425.55" x2="43.70" y2="425.55" stroke="#48976a" stroke-width="1.3"/>
<text transform="translate(46.49 427.75) scale(1.0865 1)" font-size="10.30">scattered</text>
<text transform="translate(97.07 427.75) scale(1.1395 1)" font-size="10.30">(11084)</text>
<line x1="31.90" y1="434.60" x2="43.70" y2="434.60" stroke="#bf4a4a" stroke-width="1.3"/>
<text transform="translate(46.49 436.80) scale(1.0865 1)" font-size="10.30">scattered</text>
<text transform="translate(97.07 436.80) scale(1.1395 1)" font-size="10.30">(11092)</text>
</svg>
</body></html>
